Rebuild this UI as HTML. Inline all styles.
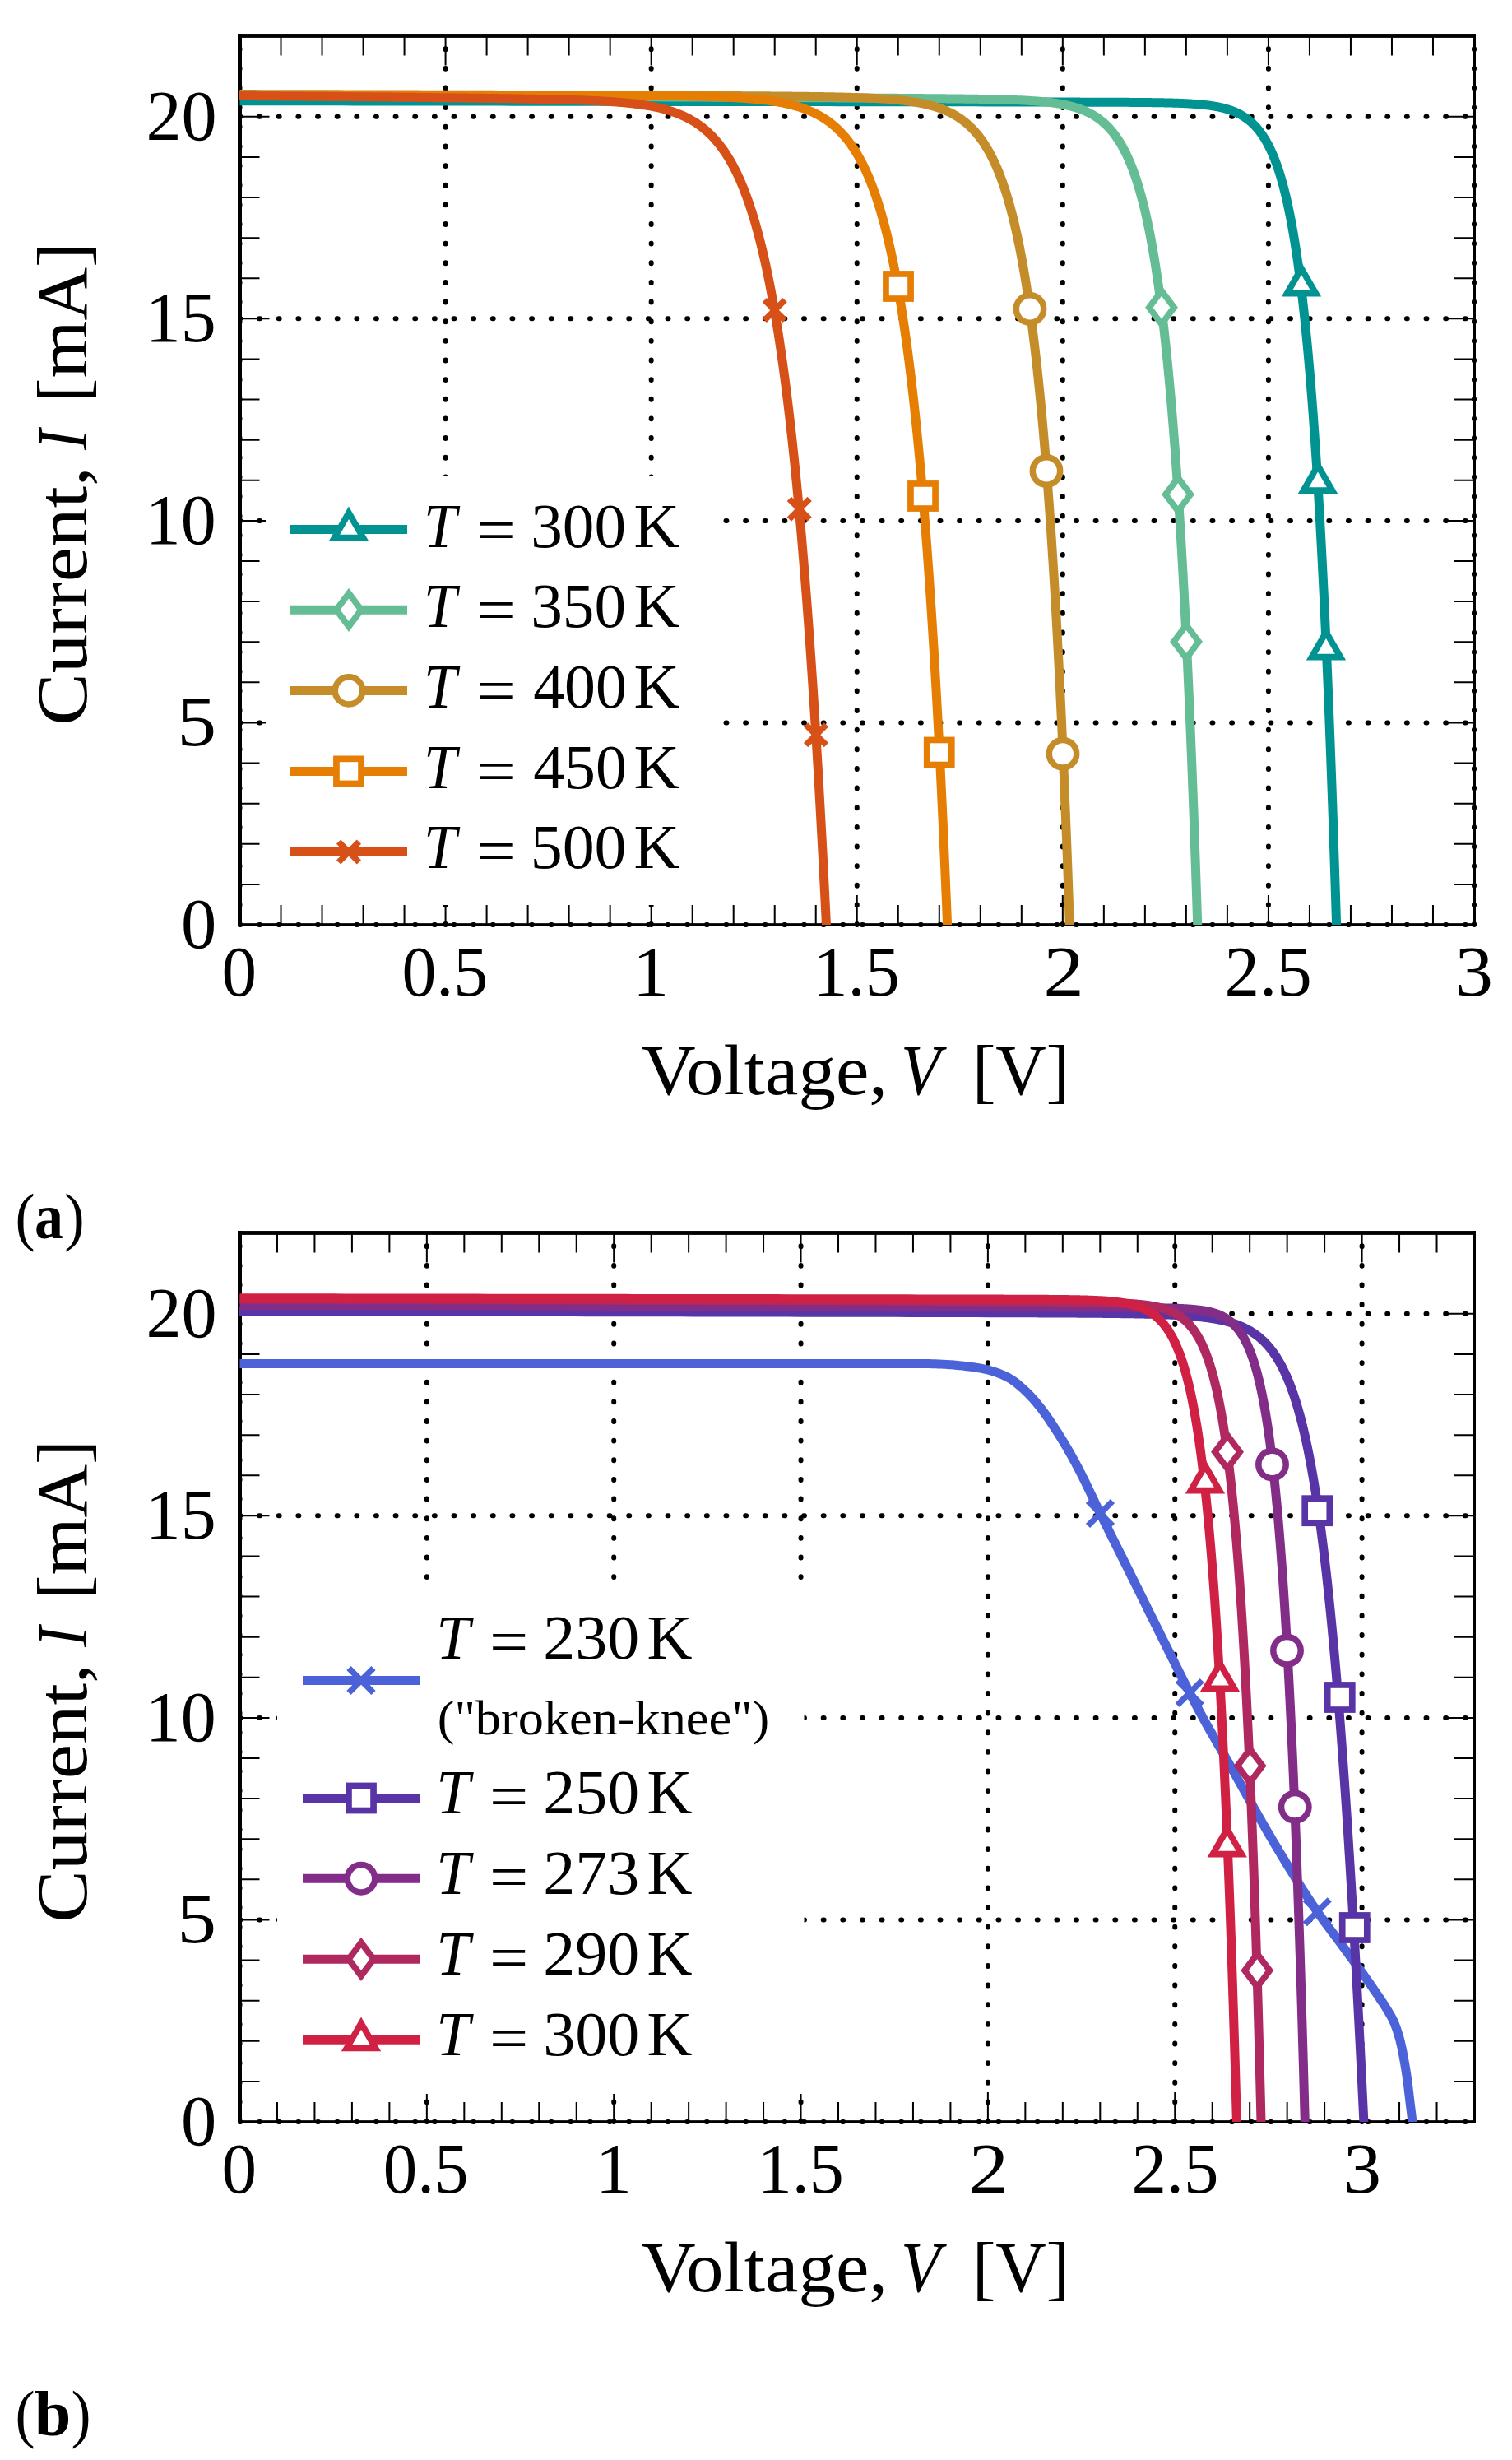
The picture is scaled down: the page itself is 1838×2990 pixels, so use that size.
<!DOCTYPE html>
<html lang="en"><head><meta charset="utf-8"><title>I-V curves</title>
<style>html,body{margin:0;padding:0;background:#fff}svg{display:block}</style></head>
<body>
<svg width="1838" height="2990" viewBox="0 0 1838 2990" font-family="'Liberation Serif', serif" fill="#000">
<rect width="1838" height="2990" fill="#fff"/>
<g id="plotA">
<clipPath id="gclipA"><rect x="289" y="41.05" width="1520" height="1088.5"/></clipPath>
<path d="M291.5 1124V43.5M541.58 1124V43.5M791.67 1124V43.5M1041.75 1124V43.5M1291.83 1124V43.5M1541.92 1124V43.5M1792 1124V43.5M291.5 1124H1792M291.5 878.45H1792M291.5 632.9H1792M291.5 387.35H1792M291.5 141.8H1792" fill="none" stroke="#000" stroke-width="6" stroke-linecap="round" stroke-dasharray="0.9 22.74" clip-path="url(#gclipA)"/>
<path d="M291.5 1124v-36M291.5 43.5v36M341.52 1124v-24M341.52 43.5v24M391.53 1124v-24M391.53 43.5v24M441.55 1124v-24M441.55 43.5v24M491.57 1124v-24M491.57 43.5v24M541.58 1124v-36M541.58 43.5v36M591.6 1124v-24M591.6 43.5v24M641.62 1124v-24M641.62 43.5v24M691.63 1124v-24M691.63 43.5v24M741.65 1124v-24M741.65 43.5v24M791.67 1124v-36M791.67 43.5v36M841.68 1124v-24M841.68 43.5v24M891.7 1124v-24M891.7 43.5v24M941.72 1124v-24M941.72 43.5v24M991.73 1124v-24M991.73 43.5v24M1041.75 1124v-36M1041.75 43.5v36M1091.77 1124v-24M1091.77 43.5v24M1141.78 1124v-24M1141.78 43.5v24M1191.8 1124v-24M1191.8 43.5v24M1241.82 1124v-24M1241.82 43.5v24M1291.83 1124v-36M1291.83 43.5v36M1341.85 1124v-24M1341.85 43.5v24M1391.87 1124v-24M1391.87 43.5v24M1441.88 1124v-24M1441.88 43.5v24M1491.9 1124v-24M1491.9 43.5v24M1541.92 1124v-36M1541.92 43.5v36M1591.93 1124v-24M1591.93 43.5v24M1641.95 1124v-24M1641.95 43.5v24M1691.97 1124v-24M1691.97 43.5v24M1741.98 1124v-24M1741.98 43.5v24M1792 1124v-36M1792 43.5v36M291.5 1124h36M1792 1124h-36M291.5 1074.89h24M1792 1074.89h-24M291.5 1025.78h24M1792 1025.78h-24M291.5 976.67h24M1792 976.67h-24M291.5 927.56h24M1792 927.56h-24M291.5 878.45h36M1792 878.45h-36M291.5 829.34h24M1792 829.34h-24M291.5 780.23h24M1792 780.23h-24M291.5 731.12h24M1792 731.12h-24M291.5 682.01h24M1792 682.01h-24M291.5 632.9h36M1792 632.9h-36M291.5 583.79h24M1792 583.79h-24M291.5 534.68h24M1792 534.68h-24M291.5 485.57h24M1792 485.57h-24M291.5 436.46h24M1792 436.46h-24M291.5 387.35h36M1792 387.35h-36M291.5 338.24h24M1792 338.24h-24M291.5 289.13h24M1792 289.13h-24M291.5 240.02h24M1792 240.02h-24M291.5 190.91h24M1792 190.91h-24M291.5 141.8h36M1792 141.8h-36" fill="none" stroke="#000" stroke-width="2"/>
<rect x="323" y="578" width="549" height="522" fill="#fff"/>
<rect x="289" y="41.05" width="5" height="1084.8" fill="#000"/>
<rect x="1790.2" y="41.05" width="3.8" height="1084.8" fill="#000"/>
<rect x="289" y="41.05" width="1505" height="4.85" fill="#000"/>
<rect x="289" y="1122.15" width="1505" height="3.7" fill="#000"/>
<clipPath id="clipA"><rect x="290.5" y="43.5" width="1501.5" height="1080.5"/></clipPath>
<g clip-path="url(#clipA)" fill="none" stroke-width="11" stroke-linejoin="round">
<path d="M291.5 122.71L303.37 122.73L319.39 122.75L335.4 122.77L351.42 122.79L367.43 122.81L383.45 122.83L399.47 122.85L415.48 122.87L431.5 122.89L447.51 122.91L463.53 122.93L479.54 122.95L495.56 122.97L511.57 122.99L527.59 123.01L543.61 123.03L559.62 123.05L575.64 123.07L591.65 123.09L607.67 123.11L623.68 123.13L639.7 123.15L655.71 123.17L671.73 123.19L687.75 123.21L703.76 123.23L719.78 123.25L735.79 123.27L751.81 123.29L767.82 123.32L783.84 123.34L799.86 123.36L815.87 123.38L831.89 123.4L847.9 123.42L863.92 123.44L879.93 123.46L895.95 123.48L911.96 123.5L927.98 123.52L944 123.54L960.01 123.56L976.03 123.58L992.04 123.6L1008.06 123.62L1024.07 123.64L1040.09 123.66L1056.1 123.68L1072.12 123.71L1088.14 123.73L1104.15 123.75L1120.17 123.77L1136.18 123.8L1152.2 123.82L1168.21 123.84L1184.23 123.87L1200.25 123.89L1216.26 123.92L1232.28 123.95L1248.29 123.98L1249.05 123.98L1249.81 123.98L1250.57 123.98L1251.33 123.98L1252.09 123.99L1252.85 123.99L1253.61 123.99L1254.37 123.99L1255.12 123.99L1255.88 123.99L1256.64 123.99L1257.4 124L1258.16 124L1258.92 124L1259.68 124L1260.44 124L1261.2 124L1261.96 124.01L1262.72 124.01L1263.47 124.01L1264.23 124.01L1264.99 124.01L1265.75 124.01L1266.51 124.01L1267.27 124.02L1268.03 124.02L1268.79 124.02L1269.55 124.02L1270.31 124.02L1271.07 124.02L1271.83 124.03L1272.58 124.03L1273.34 124.03L1274.1 124.03L1274.86 124.03L1275.62 124.03L1276.38 124.04L1277.14 124.04L1277.9 124.04L1278.66 124.04L1279.42 124.04L1280.18 124.04L1280.94 124.05L1281.69 124.05L1282.45 124.05L1283.21 124.05L1283.97 124.05L1284.73 124.05L1285.49 124.06L1286.25 124.06L1287.01 124.06L1287.77 124.06L1288.53 124.06L1289.29 124.06L1290.04 124.07L1290.8 124.07L1291.56 124.07L1292.32 124.07L1293.08 124.07L1293.84 124.08L1294.6 124.08L1295.36 124.08L1296.12 124.08L1296.88 124.08L1297.64 124.08L1298.4 124.09L1299.15 124.09L1299.91 124.09L1300.67 124.09L1301.43 124.09L1302.19 124.1L1302.95 124.1L1303.71 124.1L1304.47 124.1L1305.23 124.1L1305.99 124.11L1306.75 124.11L1307.51 124.11L1308.26 124.11L1309.02 124.11L1309.78 124.12L1310.54 124.12L1311.3 124.12L1312.06 124.12L1312.82 124.12L1313.58 124.13L1314.34 124.13L1315.1 124.13L1315.86 124.13L1316.61 124.13L1317.37 124.14L1318.13 124.14L1318.89 124.14L1319.65 124.14L1320.41 124.15L1321.17 124.15L1321.93 124.15L1322.69 124.15L1323.45 124.15L1324.21 124.16L1324.97 124.16L1325.72 124.16L1326.48 124.16L1327.24 124.17L1328 124.17L1328.76 124.17L1329.52 124.17L1330.28 124.18L1331.04 124.18L1331.8 124.18L1332.56 124.18L1333.32 124.19L1334.08 124.19L1334.83 124.19L1335.59 124.19L1336.35 124.2L1337.11 124.2L1337.87 124.2L1338.63 124.21L1339.39 124.21L1340.15 124.21L1340.91 124.21L1341.67 124.22L1342.43 124.22L1343.19 124.22L1343.94 124.23L1344.7 124.23L1345.46 124.23L1346.22 124.23L1346.98 124.24L1347.74 124.24L1348.5 124.24L1349.26 124.25L1350.02 124.25L1350.78 124.25L1351.54 124.26L1352.29 124.26L1353.05 124.26L1353.81 124.27L1354.57 124.27L1355.33 124.27L1356.09 124.28L1356.85 124.28L1357.61 124.29L1358.37 124.29L1359.13 124.29L1359.89 124.3L1360.65 124.3L1361.4 124.31L1362.16 124.31L1362.92 124.31L1363.68 124.32L1364.44 124.32L1365.2 124.33L1365.96 124.33L1366.72 124.33L1367.48 124.34L1368.24 124.34L1369 124.35L1369.76 124.35L1370.51 124.36L1371.27 124.36L1372.03 124.37L1372.79 124.37L1373.55 124.38L1374.31 124.38L1375.07 124.39L1375.83 124.39L1376.59 124.4L1377.35 124.4L1378.11 124.41L1378.87 124.42L1379.62 124.42L1380.38 124.43L1381.14 124.43L1381.9 124.44L1382.66 124.45L1383.42 124.45L1384.18 124.46L1384.94 124.47L1385.7 124.47L1386.46 124.48L1387.22 124.49L1387.98 124.49L1388.73 124.5L1389.49 124.51L1390.25 124.52L1391.01 124.52L1391.77 124.53L1392.53 124.54L1393.29 124.55L1394.05 124.56L1394.81 124.56L1395.57 124.57L1396.33 124.58L1397.09 124.59L1397.84 124.6L1398.6 124.61L1399.36 124.62L1400.12 124.63L1400.88 124.64L1401.64 124.65L1402.4 124.66L1403.16 124.67L1403.92 124.68L1404.68 124.69L1405.44 124.71L1406.2 124.72L1406.95 124.73L1407.71 124.74L1408.47 124.75L1409.23 124.77L1409.99 124.78L1410.75 124.79L1411.51 124.81L1412.27 124.82L1413.03 124.84L1413.79 124.85L1414.55 124.87L1415.31 124.88L1416.06 124.9L1416.82 124.91L1417.58 124.93L1418.34 124.95L1419.1 124.97L1419.86 124.98L1420.62 125L1421.38 125.02L1422.14 125.04L1422.9 125.06L1423.66 125.08L1424.42 125.1L1425.18 125.12L1425.93 125.14L1426.69 125.17L1427.45 125.19L1428.21 125.21L1428.97 125.24L1429.73 125.26L1430.49 125.29L1431.25 125.31L1432.01 125.34L1432.77 125.37L1433.53 125.4L1434.29 125.43L1435.05 125.46L1435.8 125.49L1436.56 125.52L1437.32 125.55L1438.08 125.58L1438.84 125.62L1439.6 125.65L1440.36 125.69L1441.12 125.72L1441.88 125.76L1442.64 125.8L1443.4 125.84L1444.16 125.88L1444.92 125.92L1445.68 125.96L1446.43 126.01L1447.19 126.05L1447.95 126.1L1448.71 126.14L1449.47 126.19L1450.23 126.24L1450.99 126.29L1451.75 126.35L1452.51 126.4L1453.27 126.46L1454.03 126.51L1454.79 126.57L1455.55 126.63L1456.31 126.7L1457.07 126.76L1457.83 126.83L1458.58 126.89L1459.34 126.96L1460.1 127.03L1460.86 127.11L1461.62 127.18L1462.38 127.26L1463.14 127.34L1463.9 127.42L1464.66 127.5L1465.42 127.59L1466.18 127.68L1466.94 127.77L1467.7 127.86L1468.46 127.96L1469.22 128.06L1469.98 128.16L1470.74 128.26L1471.5 128.37L1472.26 128.48L1473.02 128.59L1473.77 128.71L1474.53 128.83L1475.29 128.95L1476.05 129.08L1476.81 129.21L1477.57 129.34L1478.33 129.48L1479.09 129.62L1479.85 129.77L1480.61 129.92L1481.37 130.07L1482.13 130.23L1482.89 130.39L1483.65 130.56L1484.41 130.73L1485.17 130.91L1485.93 131.09L1486.69 131.28L1487.45 131.47L1488.21 131.67L1488.97 131.87L1489.73 132.08L1490.49 132.3L1491.25 132.52L1492.01 132.75L1492.77 132.98L1493.53 133.22L1494.29 133.47L1495.05 133.72L1495.81 133.99L1496.57 134.26L1497.33 134.53L1498.09 134.82L1498.85 135.11L1499.61 135.41L1500.37 135.72L1501.13 136.04L1501.89 136.37L1502.66 136.71L1503.42 137.06L1504.18 137.41L1504.94 137.78L1505.7 138.16L1506.46 138.55L1507.22 138.95L1507.98 139.36L1508.74 139.78L1509.5 140.22L1510.26 140.67L1511.02 141.13L1511.79 141.6L1512.55 142.09L1513.31 142.59L1514.07 143.11L1514.83 143.64L1515.59 144.19L1516.35 144.75L1517.11 145.33L1517.88 145.92L1518.64 146.53L1519.4 147.16L1520.16 147.81L1520.92 148.48L1521.69 149.16L1522.45 149.87L1523.21 150.6L1523.97 151.34L1524.73 152.11L1525.5 152.9L1526.26 153.71L1527.02 154.55L1527.78 155.41L1528.55 156.3L1529.31 157.21L1530.07 158.15L1530.84 159.11L1531.6 160.1L1532.36 161.12L1533.13 162.18L1533.89 163.26L1534.65 164.37L1535.42 165.51L1536.18 166.69L1536.95 167.9L1537.71 169.15L1538.47 170.43L1539.24 171.75L1540 173.11L1540.77 174.5L1541.53 175.94L1542.3 177.42L1543.06 178.94L1543.83 180.5L1544.6 182.12L1545.36 183.77L1546.13 185.48L1546.89 187.23L1547.66 189.04L1548.43 190.89L1549.19 192.8L1549.96 194.77L1550.73 196.79L1551.5 198.87L1552.27 201.02L1553.03 203.22L1553.8 205.49L1554.57 207.82L1555.34 210.22L1556.11 212.69L1556.88 215.23L1557.65 217.85L1558.42 220.54L1559.19 223.3L1559.96 226.15L1560.73 229.08L1561.5 232.1L1562.28 235.2L1563.05 238.39L1563.82 241.68L1564.59 245.06L1565.37 248.54L1566.14 252.11L1566.92 255.8L1567.69 259.58L1568.47 263.48L1569.24 267.49L1570.02 271.62L1570.79 275.87L1571.57 280.24L1572.35 284.73L1573.13 289.36L1573.91 294.12L1574.69 299.01L1575.47 304.05L1576.25 309.24L1577.03 314.57L1577.81 320.06L1578.59 325.71L1579.37 331.52L1580.16 337.5L1580.94 343.66L1581.73 349.99L1582.51 356.5L1583.3 363.2L1584.09 370.1L1584.88 377.2L1585.67 384.5L1586.46 392.01L1587.25 399.74L1588.04 407.7L1588.83 415.88L1589.63 424.3L1590.42 432.97L1591.22 441.88L1592.02 451.06L1592.81 460.49L1593.61 470.21L1594.41 480.2L1595.22 490.48L1596.02 501.06L1596.82 511.95L1597.63 523.15L1598.43 534.67L1599.24 546.53L1600.05 558.73L1600.86 571.29L1601.68 584.21L1602.49 597.5L1603.31 611.17L1604.12 625.25L1604.94 639.72L1605.76 654.62L1606.59 669.95L1607.41 685.72L1608.24 701.95L1609.07 718.65L1609.9 735.83L1610.73 753.51L1611.56 771.69L1612.4 790.41L1613.24 809.67L1614.08 829.48L1614.92 849.87L1615.77 870.84L1616.62 892.42L1617.47 914.63L1618.32 937.48L1619.18 960.99L1620.04 985.18L1620.9 1010.06L1621.76 1035.67L1622.63 1062.02L1623.5 1089.13L1624.38 1117.03L1625.26 1145.73L1626.14 1175.26L1627.02 1205.64L1627.91 1236.9L1628.8 1269.07L1629.7 1302.17L1630.6 1336.22L1631.5 1371.26L1632.41 1407.31" stroke="#009392"/>
<polygon points="1582,326.3 1599.49,356.6 1564.51,356.6" fill="#fff" stroke="#009392" stroke-width="7.7" stroke-linejoin="miter"/>
<polygon points="1602,565.8 1619.49,596.1 1584.51,596.1" fill="#fff" stroke="#009392" stroke-width="7.7" stroke-linejoin="miter"/>
<polygon points="1612,768.3 1629.49,798.6 1594.51,798.6" fill="#fff" stroke="#009392" stroke-width="7.7" stroke-linejoin="miter"/>
<path d="M291.5 116.11L303.03 116.15L315.09 116.19L327.16 116.22L339.22 116.26L351.28 116.3L363.34 116.34L375.4 116.38L387.46 116.42L399.52 116.46L411.59 116.49L423.65 116.53L435.71 116.57L447.77 116.61L459.83 116.65L471.89 116.69L483.95 116.73L496.02 116.77L508.08 116.81L520.14 116.85L532.2 116.89L544.26 116.93L556.32 116.97L568.38 117.01L580.44 117.05L592.51 117.09L604.57 117.13L616.63 117.17L628.69 117.22L640.75 117.26L652.81 117.3L664.87 117.34L676.94 117.39L689 117.43L701.06 117.47L713.12 117.52L725.18 117.56L737.24 117.61L749.3 117.65L761.37 117.7L773.43 117.75L785.49 117.79L797.55 117.84L809.61 117.89L821.67 117.94L833.73 117.99L845.8 118.04L857.86 118.09L869.92 118.15L881.98 118.2L894.04 118.25L906.1 118.31L918.16 118.37L930.22 118.43L942.29 118.48L954.35 118.55L966.41 118.61L978.47 118.67L990.53 118.74L1002.59 118.8L1014.65 118.87L1015.55 118.88L1016.45 118.88L1017.35 118.89L1018.25 118.9L1019.15 118.9L1020.05 118.91L1020.94 118.91L1021.84 118.92L1022.74 118.92L1023.64 118.93L1024.54 118.93L1025.44 118.94L1026.34 118.94L1027.24 118.95L1028.13 118.95L1029.03 118.96L1029.93 118.96L1030.83 118.97L1031.73 118.98L1032.63 118.98L1033.53 118.99L1034.42 118.99L1035.32 119L1036.22 119L1037.12 119.01L1038.02 119.01L1038.92 119.02L1039.82 119.03L1040.71 119.03L1041.61 119.04L1042.51 119.04L1043.41 119.05L1044.31 119.05L1045.21 119.06L1046.11 119.06L1047 119.07L1047.9 119.08L1048.8 119.08L1049.7 119.09L1050.6 119.09L1051.5 119.1L1052.4 119.11L1053.29 119.11L1054.19 119.12L1055.09 119.12L1055.99 119.13L1056.89 119.13L1057.79 119.14L1058.69 119.15L1059.59 119.15L1060.48 119.16L1061.38 119.16L1062.28 119.17L1063.18 119.18L1064.08 119.18L1064.98 119.19L1065.88 119.19L1066.77 119.2L1067.67 119.21L1068.57 119.21L1069.47 119.22L1070.37 119.22L1071.27 119.23L1072.17 119.24L1073.06 119.24L1073.96 119.25L1074.86 119.26L1075.76 119.26L1076.66 119.27L1077.56 119.27L1078.46 119.28L1079.35 119.29L1080.25 119.29L1081.15 119.3L1082.05 119.31L1082.95 119.31L1083.85 119.32L1084.75 119.32L1085.65 119.33L1086.54 119.34L1087.44 119.34L1088.34 119.35L1089.24 119.36L1090.14 119.36L1091.04 119.37L1091.94 119.38L1092.83 119.38L1093.73 119.39L1094.63 119.4L1095.53 119.4L1096.43 119.41L1097.33 119.42L1098.23 119.42L1099.12 119.43L1100.02 119.44L1100.92 119.44L1101.82 119.45L1102.72 119.46L1103.62 119.47L1104.52 119.47L1105.41 119.48L1106.31 119.49L1107.21 119.49L1108.11 119.5L1109.01 119.51L1109.91 119.51L1110.81 119.52L1111.7 119.53L1112.6 119.54L1113.5 119.54L1114.4 119.55L1115.3 119.56L1116.2 119.57L1117.1 119.57L1118 119.58L1118.89 119.59L1119.79 119.6L1120.69 119.6L1121.59 119.61L1122.49 119.62L1123.39 119.63L1124.29 119.63L1125.18 119.64L1126.08 119.65L1126.98 119.66L1127.88 119.67L1128.78 119.67L1129.68 119.68L1130.58 119.69L1131.47 119.7L1132.37 119.71L1133.27 119.71L1134.17 119.72L1135.07 119.73L1135.97 119.74L1136.87 119.75L1137.76 119.76L1138.66 119.76L1139.56 119.77L1140.46 119.78L1141.36 119.79L1142.26 119.8L1143.16 119.81L1144.05 119.82L1144.95 119.82L1145.85 119.83L1146.75 119.84L1147.65 119.85L1148.55 119.86L1149.45 119.87L1150.35 119.88L1151.24 119.89L1152.14 119.9L1153.04 119.91L1153.94 119.92L1154.84 119.93L1155.74 119.94L1156.64 119.95L1157.53 119.96L1158.43 119.97L1159.33 119.98L1160.23 119.99L1161.13 120L1162.03 120.01L1162.93 120.02L1163.82 120.03L1164.72 120.04L1165.62 120.05L1166.52 120.06L1167.42 120.07L1168.32 120.08L1169.22 120.09L1170.11 120.11L1171.01 120.12L1171.91 120.13L1172.81 120.14L1173.71 120.15L1174.61 120.16L1175.51 120.18L1176.41 120.19L1177.3 120.2L1178.2 120.21L1179.1 120.22L1180 120.24L1180.9 120.25L1181.8 120.26L1182.7 120.28L1183.59 120.29L1184.49 120.3L1185.39 120.32L1186.29 120.33L1187.19 120.35L1188.09 120.36L1188.99 120.37L1189.88 120.39L1190.78 120.4L1191.68 120.42L1192.58 120.43L1193.48 120.45L1194.38 120.47L1195.28 120.48L1196.17 120.5L1197.07 120.51L1197.97 120.53L1198.87 120.55L1199.77 120.57L1200.67 120.58L1201.57 120.6L1202.47 120.62L1203.36 120.64L1204.26 120.66L1205.16 120.67L1206.06 120.69L1206.96 120.71L1207.86 120.73L1208.76 120.75L1209.65 120.77L1210.55 120.8L1211.45 120.82L1212.35 120.84L1213.25 120.86L1214.15 120.88L1215.05 120.91L1215.94 120.93L1216.84 120.95L1217.74 120.98L1218.64 121L1219.54 121.03L1220.44 121.05L1221.34 121.08L1222.23 121.11L1223.13 121.13L1224.03 121.16L1224.93 121.19L1225.83 121.22L1226.73 121.25L1227.63 121.28L1228.53 121.31L1229.42 121.34L1230.32 121.37L1231.22 121.41L1232.12 121.44L1233.02 121.47L1233.92 121.51L1234.82 121.54L1235.71 121.58L1236.61 121.62L1237.51 121.65L1238.41 121.69L1239.31 121.73L1240.21 121.77L1241.11 121.81L1242 121.86L1242.9 121.9L1243.8 121.94L1244.7 121.99L1245.6 122.04L1246.5 122.08L1247.4 122.13L1248.3 122.18L1249.19 122.23L1250.09 122.29L1250.99 122.34L1251.89 122.39L1252.79 122.45L1253.69 122.51L1254.59 122.56L1255.48 122.62L1256.38 122.69L1257.28 122.75L1258.18 122.81L1259.08 122.88L1259.98 122.95L1260.88 123.02L1261.77 123.09L1262.67 123.16L1263.57 123.24L1264.47 123.31L1265.37 123.39L1266.27 123.47L1267.17 123.56L1268.07 123.64L1268.96 123.73L1269.86 123.82L1270.76 123.91L1271.66 124L1272.56 124.1L1273.46 124.2L1274.36 124.3L1275.25 124.4L1276.15 124.51L1277.05 124.62L1277.95 124.73L1278.85 124.85L1279.75 124.96L1280.65 125.09L1281.55 125.21L1282.44 125.34L1283.34 125.47L1284.24 125.6L1285.14 125.74L1286.04 125.89L1286.94 126.03L1287.84 126.18L1288.73 126.34L1289.63 126.49L1290.53 126.66L1291.43 126.82L1292.33 126.99L1293.23 127.17L1294.13 127.35L1295.03 127.54L1295.92 127.73L1296.82 127.92L1297.72 128.12L1298.62 128.33L1299.52 128.54L1300.42 128.76L1301.32 128.99L1302.22 129.22L1303.11 129.45L1304.01 129.7L1304.91 129.95L1305.81 130.2L1306.71 130.47L1307.61 130.74L1308.51 131.02L1309.41 131.3L1310.3 131.6L1311.2 131.9L1312.1 132.21L1313 132.53L1313.9 132.86L1314.8 133.2L1315.7 133.55L1316.6 133.91L1317.49 134.27L1318.39 134.65L1319.29 135.04L1320.19 135.44L1321.09 135.85L1321.99 136.27L1322.89 136.7L1323.79 137.15L1324.68 137.61L1325.58 138.08L1326.48 138.56L1327.38 139.06L1328.28 139.57L1329.18 140.1L1330.08 140.64L1330.98 141.2L1331.88 141.77L1332.77 142.36L1333.67 142.97L1334.57 143.59L1335.47 144.23L1336.37 144.89L1337.27 145.57L1338.17 146.27L1339.07 146.98L1339.97 147.72L1340.87 148.48L1341.76 149.26L1342.66 150.06L1343.56 150.88L1344.46 151.73L1345.36 152.61L1346.26 153.5L1347.16 154.43L1348.06 155.38L1348.96 156.35L1349.86 157.36L1350.76 158.39L1351.65 159.45L1352.55 160.54L1353.45 161.67L1354.35 162.83L1355.25 164.01L1356.15 165.24L1357.05 166.5L1357.95 167.79L1358.85 169.12L1359.75 170.49L1360.65 171.9L1361.55 173.35L1362.45 174.84L1363.35 176.38L1364.24 177.96L1365.14 179.58L1366.04 181.25L1366.94 182.97L1367.84 184.74L1368.74 186.55L1369.64 188.42L1370.54 190.35L1371.44 192.33L1372.34 194.36L1373.24 196.46L1374.14 198.61L1375.04 200.83L1375.94 203.11L1376.84 205.46L1377.74 207.87L1378.64 210.36L1379.54 212.91L1380.44 215.54L1381.34 218.25L1382.24 221.03L1383.14 223.89L1384.04 226.84L1384.94 229.87L1385.84 232.98L1386.74 236.19L1387.64 239.49L1388.54 242.89L1389.44 246.38L1390.34 249.97L1391.24 253.67L1392.14 257.47L1393.04 261.39L1393.94 265.41L1394.85 269.56L1395.75 273.82L1396.65 278.2L1397.55 282.71L1398.45 287.36L1399.35 292.13L1400.25 297.05L1401.15 302.1L1402.05 307.3L1402.96 312.66L1403.86 318.16L1404.76 323.83L1405.66 329.66L1406.56 335.65L1407.46 341.83L1408.37 348.17L1409.27 354.71L1410.17 361.43L1411.07 368.34L1411.97 375.46L1412.88 382.78L1413.78 390.31L1414.68 398.06L1415.59 406.04L1416.49 414.24L1417.39 422.68L1418.29 431.37L1419.2 440.31L1420.1 449.5L1421 458.96L1421.91 468.7L1422.81 478.71L1423.72 489.02L1424.62 499.62L1425.52 510.53L1426.43 521.76L1427.33 533.31L1428.24 545.19L1429.14 557.42L1430.05 570L1430.95 582.95L1431.86 596.27L1432.77 609.98L1433.67 624.08L1434.58 638.59L1435.48 653.52L1436.39 668.88L1437.3 684.69L1438.21 700.95L1439.11 717.69L1440.02 734.91L1440.93 752.62L1441.84 770.85L1442.74 789.61L1443.65 808.91L1444.56 828.77L1445.47 849.2L1446.38 870.22L1447.29 891.86L1448.2 914.11L1449.11 937.02L1450.02 960.58L1450.93 984.83L1451.85 1009.78L1452.76 1035.45L1453.67 1061.86L1454.58 1089.04L1455.5 1117.01L1456.41 1145.78L1457.32 1175.39L1458.24 1205.86L1459.15 1237.2L1460.07 1269.46L1460.99 1302.64L1461.9 1336.79L1462.82 1371.93L1463.74 1408.08" stroke="#65bd96"/>
<polygon points="1412,353.55 1427.15,373.75 1412,393.95 1396.85,373.75" fill="#fff" stroke="#65bd96" stroke-width="7.7" stroke-linejoin="miter"/>
<polygon points="1432,580.8 1447.15,601 1432,621.2 1416.85,601" fill="#fff" stroke="#65bd96" stroke-width="7.7" stroke-linejoin="miter"/>
<polygon points="1442,759.8 1457.15,780 1442,800.2 1426.85,780" fill="#fff" stroke="#65bd96" stroke-width="7.7" stroke-linejoin="miter"/>
<path d="M291.5 114.57L300.9 114.59L309.4 114.61L317.9 114.63L326.4 114.66L334.89 114.68L343.39 114.7L351.89 114.72L360.39 114.74L368.89 114.76L377.39 114.78L385.89 114.8L394.38 114.82L402.88 114.84L411.38 114.87L419.88 114.89L428.38 114.91L436.88 114.93L445.38 114.95L453.87 114.97L462.37 114.99L470.87 115.02L479.37 115.04L487.87 115.06L496.37 115.08L504.87 115.11L513.36 115.13L521.86 115.15L530.36 115.17L538.86 115.2L547.36 115.22L555.86 115.25L564.36 115.27L572.85 115.29L581.35 115.32L589.85 115.34L598.35 115.37L606.85 115.39L615.35 115.42L623.85 115.44L632.34 115.47L640.84 115.49L649.34 115.52L657.84 115.55L666.34 115.58L674.84 115.6L683.34 115.63L691.83 115.66L700.33 115.69L708.83 115.72L717.33 115.75L725.83 115.78L734.33 115.81L742.83 115.84L751.32 115.88L759.82 115.91L768.32 115.94L776.82 115.98L785.32 116.01L793.82 116.05L802.32 116.09L803.33 116.09L804.35 116.1L805.37 116.1L806.39 116.11L807.4 116.11L808.42 116.11L809.44 116.12L810.46 116.12L811.47 116.13L812.49 116.13L813.51 116.14L814.53 116.14L815.55 116.15L816.56 116.15L817.58 116.16L818.6 116.16L819.62 116.17L820.63 116.17L821.65 116.18L822.67 116.18L823.69 116.19L824.7 116.19L825.72 116.2L826.74 116.2L827.76 116.21L828.78 116.21L829.79 116.22L830.81 116.22L831.83 116.23L832.85 116.23L833.86 116.24L834.88 116.24L835.9 116.25L836.92 116.25L837.93 116.26L838.95 116.26L839.97 116.27L840.99 116.27L842 116.28L843.02 116.28L844.04 116.29L845.06 116.29L846.08 116.3L847.09 116.3L848.11 116.31L849.13 116.31L850.15 116.32L851.16 116.32L852.18 116.33L853.2 116.33L854.22 116.34L855.23 116.35L856.25 116.35L857.27 116.36L858.29 116.36L859.31 116.37L860.32 116.37L861.34 116.38L862.36 116.38L863.38 116.39L864.39 116.4L865.41 116.4L866.43 116.41L867.45 116.41L868.46 116.42L869.48 116.42L870.5 116.43L871.52 116.44L872.54 116.44L873.55 116.45L874.57 116.45L875.59 116.46L876.61 116.47L877.62 116.47L878.64 116.48L879.66 116.48L880.68 116.49L881.69 116.5L882.71 116.5L883.73 116.51L884.75 116.51L885.76 116.52L886.78 116.53L887.8 116.53L888.82 116.54L889.84 116.55L890.85 116.55L891.87 116.56L892.89 116.57L893.91 116.57L894.92 116.58L895.94 116.58L896.96 116.59L897.98 116.6L898.99 116.6L900.01 116.61L901.03 116.62L902.05 116.63L903.07 116.63L904.08 116.64L905.1 116.65L906.12 116.65L907.14 116.66L908.15 116.67L909.17 116.67L910.19 116.68L911.21 116.69L912.22 116.7L913.24 116.7L914.26 116.71L915.28 116.72L916.29 116.72L917.31 116.73L918.33 116.74L919.35 116.75L920.37 116.75L921.38 116.76L922.4 116.77L923.42 116.78L924.44 116.79L925.45 116.79L926.47 116.8L927.49 116.81L928.51 116.82L929.52 116.82L930.54 116.83L931.56 116.84L932.58 116.85L933.6 116.86L934.61 116.87L935.63 116.87L936.65 116.88L937.67 116.89L938.68 116.9L939.7 116.91L940.72 116.92L941.74 116.93L942.75 116.94L943.77 116.94L944.79 116.95L945.81 116.96L946.82 116.97L947.84 116.98L948.86 116.99L949.88 117L950.9 117.01L951.91 117.02L952.93 117.03L953.95 117.04L954.97 117.05L955.98 117.06L957 117.07L958.02 117.08L959.04 117.09L960.05 117.1L961.07 117.11L962.09 117.12L963.11 117.13L964.13 117.14L965.14 117.15L966.16 117.16L967.18 117.17L968.2 117.19L969.21 117.2L970.23 117.21L971.25 117.22L972.27 117.23L973.28 117.24L974.3 117.26L975.32 117.27L976.34 117.28L977.35 117.29L978.37 117.3L979.39 117.32L980.41 117.33L981.43 117.34L982.44 117.36L983.46 117.37L984.48 117.38L985.5 117.4L986.51 117.41L987.53 117.42L988.55 117.44L989.57 117.45L990.58 117.47L991.6 117.48L992.62 117.5L993.64 117.51L994.66 117.53L995.67 117.54L996.69 117.56L997.71 117.58L998.73 117.59L999.74 117.61L1000.76 117.62L1001.78 117.64L1002.8 117.66L1003.81 117.68L1004.83 117.69L1005.85 117.71L1006.87 117.73L1007.88 117.75L1008.9 117.77L1009.92 117.79L1010.94 117.81L1011.96 117.83L1012.97 117.85L1013.99 117.87L1015.01 117.89L1016.03 117.91L1017.04 117.93L1018.06 117.95L1019.08 117.97L1020.1 118L1021.11 118.02L1022.13 118.04L1023.15 118.07L1024.17 118.09L1025.18 118.11L1026.2 118.14L1027.22 118.16L1028.24 118.19L1029.26 118.22L1030.27 118.24L1031.29 118.27L1032.31 118.3L1033.33 118.33L1034.34 118.36L1035.36 118.38L1036.38 118.41L1037.4 118.45L1038.41 118.48L1039.43 118.51L1040.45 118.54L1041.47 118.57L1042.48 118.61L1043.5 118.64L1044.52 118.68L1045.54 118.71L1046.56 118.75L1047.57 118.79L1048.59 118.82L1049.61 118.86L1050.63 118.9L1051.64 118.94L1052.66 118.99L1053.68 119.03L1054.7 119.07L1055.71 119.11L1056.73 119.16L1057.75 119.21L1058.77 119.25L1059.78 119.3L1060.8 119.35L1061.82 119.4L1062.84 119.45L1063.86 119.5L1064.87 119.56L1065.89 119.61L1066.91 119.67L1067.93 119.72L1068.94 119.78L1069.96 119.84L1070.98 119.9L1072 119.97L1073.01 120.03L1074.03 120.1L1075.05 120.16L1076.07 120.23L1077.08 120.3L1078.1 120.37L1079.12 120.45L1080.14 120.52L1081.15 120.6L1082.17 120.68L1083.19 120.76L1084.21 120.84L1085.23 120.93L1086.24 121.02L1087.26 121.1L1088.28 121.2L1089.3 121.29L1090.31 121.39L1091.33 121.48L1092.35 121.58L1093.37 121.69L1094.38 121.79L1095.4 121.9L1096.42 122.01L1097.44 122.13L1098.45 122.24L1099.47 122.36L1100.49 122.48L1101.51 122.61L1102.52 122.74L1103.54 122.87L1104.56 123.01L1105.58 123.15L1106.59 123.29L1107.61 123.43L1108.63 123.58L1109.65 123.74L1110.66 123.9L1111.68 124.06L1112.7 124.22L1113.72 124.39L1114.73 124.57L1115.75 124.75L1116.77 124.93L1117.79 125.12L1118.8 125.31L1119.82 125.51L1120.84 125.72L1121.86 125.93L1122.87 126.14L1123.89 126.36L1124.91 126.59L1125.93 126.82L1126.94 127.06L1127.96 127.3L1128.98 127.56L1130 127.81L1131.01 128.08L1132.03 128.35L1133.05 128.63L1134.07 128.92L1135.08 129.21L1136.1 129.52L1137.12 129.83L1138.14 130.15L1139.15 130.47L1140.17 130.81L1141.19 131.16L1142.21 131.51L1143.22 131.87L1144.24 132.25L1145.26 132.63L1146.27 133.03L1147.29 133.44L1148.31 133.85L1149.33 134.28L1150.34 134.72L1151.36 135.17L1152.38 135.64L1153.4 136.12L1154.41 136.61L1155.43 137.11L1156.45 137.63L1157.46 138.16L1158.48 138.71L1159.5 139.27L1160.52 139.84L1161.53 140.44L1162.55 141.05L1163.57 141.67L1164.58 142.32L1165.6 142.98L1166.62 143.66L1167.64 144.36L1168.65 145.08L1169.67 145.81L1170.69 146.57L1171.7 147.35L1172.72 148.15L1173.74 148.98L1174.75 149.82L1175.77 150.69L1176.79 151.59L1177.81 152.51L1178.82 153.45L1179.84 154.43L1180.86 155.42L1181.87 156.45L1182.89 157.51L1183.91 158.59L1184.92 159.71L1185.94 160.86L1186.96 162.03L1187.97 163.25L1188.99 164.49L1190.01 165.78L1191.02 167.09L1192.04 168.45L1193.05 169.84L1194.07 171.27L1195.09 172.75L1196.1 174.26L1197.12 175.82L1198.14 177.42L1199.15 179.06L1200.17 180.76L1201.19 182.5L1202.2 184.29L1203.22 186.13L1204.23 188.02L1205.25 189.97L1206.26 191.97L1207.28 194.03L1208.3 196.14L1209.31 198.32L1210.33 200.56L1211.34 202.86L1212.36 205.23L1213.37 207.66L1214.39 210.17L1215.41 212.74L1216.42 215.39L1217.44 218.11L1218.45 220.92L1219.47 223.8L1220.48 226.76L1221.5 229.81L1222.51 232.94L1223.53 236.17L1224.54 239.49L1225.56 242.9L1226.57 246.41L1227.58 250.01L1228.6 253.73L1229.61 257.55L1230.63 261.47L1231.64 265.51L1232.66 269.67L1233.67 273.94L1234.68 278.34L1235.7 282.86L1236.71 287.51L1237.72 292.3L1238.74 297.22L1239.75 302.29L1240.76 307.5L1241.78 312.86L1242.79 318.37L1243.8 324.04L1244.81 329.87L1245.83 335.88L1246.84 342.05L1247.85 348.4L1248.86 354.94L1249.87 361.66L1250.88 368.57L1251.9 375.69L1252.91 383.01L1253.92 390.54L1254.93 398.29L1255.94 406.26L1256.95 414.46L1257.96 422.89L1258.97 431.57L1259.98 440.5L1260.99 449.69L1262 459.14L1263.01 468.87L1264.02 478.88L1265.02 489.17L1266.03 499.77L1267.04 510.66L1268.05 521.88L1269.06 533.42L1270.06 545.29L1271.07 557.5L1272.08 570.07L1273.08 583L1274.09 596.31L1275.09 610L1276.1 624.09L1277.1 638.58L1278.11 653.5L1279.11 668.84L1280.12 684.64L1281.12 700.89L1282.12 717.61L1283.12 734.81L1284.13 752.52L1285.13 770.74L1286.13 789.48L1287.13 808.77L1288.13 828.63L1289.13 849.05L1290.13 870.07L1291.12 891.71L1292.12 913.97L1293.12 936.87L1294.12 960.45L1295.11 984.7L1296.11 1009.67L1297.1 1035.36L1298.1 1061.79L1299.09 1089L1300.08 1117L1301.07 1145.81L1302.07 1175.47L1303.06 1205.98L1304.05 1237.39L1305.03 1269.71L1306.02 1302.97L1307.01 1337.2L1308 1372.43L1308.98 1408.68" stroke="#c48d2a"/>
<circle cx="1252" cy="375.5" r="16.7" fill="#fff" stroke="#c48d2a" stroke-width="7.5"/>
<circle cx="1272" cy="572.5" r="16.7" fill="#fff" stroke="#c48d2a" stroke-width="7.5"/>
<circle cx="1292" cy="916.25" r="16.7" fill="#fff" stroke="#c48d2a" stroke-width="7.5"/>
<path d="M291.5 115.49L296.5 115.5L301.34 115.5L306.19 115.5L311.03 115.5L315.88 115.5L320.72 115.5L325.57 115.5L330.41 115.5L335.26 115.5L340.1 115.51L344.95 115.51L349.79 115.51L354.64 115.51L359.49 115.51L364.33 115.51L369.18 115.51L374.02 115.52L378.87 115.52L383.71 115.52L388.56 115.52L393.4 115.52L398.25 115.52L403.09 115.53L407.94 115.53L412.78 115.53L417.63 115.53L422.47 115.53L427.32 115.54L432.16 115.54L437.01 115.54L441.85 115.54L446.7 115.55L451.54 115.55L456.39 115.55L461.24 115.55L466.08 115.56L470.93 115.56L475.77 115.56L480.62 115.57L485.46 115.57L490.31 115.57L495.15 115.58L500 115.58L504.84 115.58L509.69 115.59L514.53 115.59L519.38 115.59L524.22 115.6L529.07 115.6L533.91 115.61L538.76 115.61L543.6 115.61L548.45 115.62L553.3 115.62L558.14 115.63L562.99 115.63L567.83 115.64L572.68 115.64L577.52 115.65L582.37 115.66L583.53 115.66L584.69 115.66L585.85 115.66L587.01 115.66L588.17 115.66L589.34 115.66L590.5 115.67L591.66 115.67L592.82 115.67L593.98 115.67L595.14 115.67L596.3 115.67L597.47 115.68L598.63 115.68L599.79 115.68L600.95 115.68L602.11 115.68L603.27 115.68L604.43 115.68L605.6 115.69L606.76 115.69L607.92 115.69L609.08 115.69L610.24 115.69L611.4 115.69L612.56 115.7L613.73 115.7L614.89 115.7L616.05 115.7L617.21 115.7L618.37 115.71L619.53 115.71L620.69 115.71L621.86 115.71L623.02 115.71L624.18 115.71L625.34 115.72L626.5 115.72L627.66 115.72L628.82 115.72L629.99 115.72L631.15 115.73L632.31 115.73L633.47 115.73L634.63 115.73L635.79 115.73L636.95 115.74L638.12 115.74L639.28 115.74L640.44 115.74L641.6 115.74L642.76 115.75L643.92 115.75L645.08 115.75L646.25 115.75L647.41 115.76L648.57 115.76L649.73 115.76L650.89 115.76L652.05 115.77L653.21 115.77L654.38 115.77L655.54 115.77L656.7 115.77L657.86 115.78L659.02 115.78L660.18 115.78L661.34 115.78L662.51 115.79L663.67 115.79L664.83 115.79L665.99 115.79L667.15 115.8L668.31 115.8L669.47 115.8L670.64 115.8L671.8 115.81L672.96 115.81L674.12 115.81L675.28 115.82L676.44 115.82L677.6 115.82L678.77 115.82L679.93 115.83L681.09 115.83L682.25 115.83L683.41 115.84L684.57 115.84L685.73 115.84L686.9 115.85L688.06 115.85L689.22 115.85L690.38 115.85L691.54 115.86L692.7 115.86L693.86 115.86L695.03 115.87L696.19 115.87L697.35 115.87L698.51 115.88L699.67 115.88L700.83 115.88L701.99 115.89L703.16 115.89L704.32 115.89L705.48 115.9L706.64 115.9L707.8 115.91L708.96 115.91L710.12 115.91L711.29 115.92L712.45 115.92L713.61 115.92L714.77 115.93L715.93 115.93L717.09 115.94L718.25 115.94L719.42 115.95L720.58 115.95L721.74 115.95L722.9 115.96L724.06 115.96L725.22 115.97L726.38 115.97L727.55 115.98L728.71 115.98L729.87 115.98L731.03 115.99L732.19 115.99L733.35 116L734.51 116L735.68 116.01L736.84 116.01L738 116.02L739.16 116.02L740.32 116.03L741.48 116.03L742.64 116.04L743.81 116.04L744.97 116.05L746.13 116.05L747.29 116.06L748.45 116.07L749.61 116.07L750.77 116.08L751.94 116.08L753.1 116.09L754.26 116.1L755.42 116.1L756.58 116.11L757.74 116.11L758.9 116.12L760.07 116.13L761.23 116.13L762.39 116.14L763.55 116.15L764.71 116.15L765.87 116.16L767.03 116.17L768.2 116.17L769.36 116.18L770.52 116.19L771.68 116.2L772.84 116.2L774 116.21L775.16 116.22L776.33 116.23L777.49 116.23L778.65 116.24L779.81 116.25L780.97 116.26L782.13 116.27L783.29 116.28L784.46 116.29L785.62 116.29L786.78 116.3L787.94 116.31L789.1 116.32L790.26 116.33L791.42 116.34L792.59 116.35L793.75 116.36L794.91 116.37L796.07 116.38L797.23 116.39L798.39 116.4L799.55 116.42L800.72 116.43L801.88 116.44L803.04 116.45L804.2 116.46L805.36 116.47L806.52 116.49L807.68 116.5L808.85 116.51L810.01 116.52L811.17 116.54L812.33 116.55L813.49 116.56L814.65 116.58L815.81 116.59L816.98 116.61L818.14 116.62L819.3 116.64L820.46 116.65L821.62 116.67L822.78 116.68L823.94 116.7L825.11 116.72L826.27 116.73L827.43 116.75L828.59 116.77L829.75 116.79L830.91 116.8L832.07 116.82L833.24 116.84L834.4 116.86L835.56 116.88L836.72 116.9L837.88 116.92L839.04 116.94L840.2 116.97L841.37 116.99L842.53 117.01L843.69 117.03L844.85 117.06L846.01 117.08L847.17 117.11L848.33 117.13L849.5 117.16L850.66 117.18L851.82 117.21L852.98 117.24L854.14 117.26L855.3 117.29L856.46 117.32L857.63 117.35L858.79 117.38L859.95 117.41L861.11 117.45L862.27 117.48L863.43 117.51L864.59 117.55L865.76 117.58L866.92 117.62L868.08 117.66L869.24 117.69L870.4 117.73L871.56 117.77L872.72 117.81L873.89 117.85L875.05 117.9L876.21 117.94L877.37 117.98L878.53 118.03L879.69 118.08L880.85 118.12L882.02 118.17L883.18 118.22L884.34 118.27L885.5 118.33L886.66 118.38L887.82 118.43L888.98 118.49L890.15 118.55L891.31 118.61L892.47 118.67L893.63 118.73L894.79 118.79L895.95 118.86L897.11 118.93L898.28 119L899.44 119.07L900.6 119.14L901.76 119.21L902.92 119.29L904.08 119.37L905.24 119.45L906.41 119.53L907.57 119.61L908.73 119.7L909.89 119.79L911.05 119.88L912.21 119.97L913.37 120.07L914.54 120.16L915.7 120.26L916.86 120.37L918.02 120.47L919.18 120.58L920.34 120.69L921.5 120.81L922.67 120.92L923.83 121.04L924.99 121.17L926.15 121.29L927.31 121.42L928.47 121.56L929.63 121.7L930.8 121.84L931.96 121.98L933.12 122.13L934.28 122.28L935.44 122.44L936.6 122.6L937.76 122.76L938.93 122.93L940.09 123.1L941.25 123.28L942.41 123.47L943.57 123.65L944.73 123.85L945.89 124.05L947.06 124.25L948.22 124.46L949.38 124.67L950.54 124.89L951.7 125.12L952.86 125.35L954.02 125.59L955.19 125.84L956.35 126.09L957.51 126.35L958.67 126.62L959.83 126.89L960.99 127.17L962.15 127.46L963.31 127.76L964.48 128.06L965.64 128.37L966.8 128.69L967.96 129.03L969.12 129.36L970.28 129.71L971.44 130.07L972.61 130.44L973.77 130.82L974.93 131.21L976.09 131.61L977.25 132.02L978.41 132.44L979.57 132.88L980.74 133.32L981.9 133.78L983.06 134.25L984.22 134.74L985.38 135.23L986.54 135.75L987.7 136.27L988.86 136.81L990.03 137.37L991.19 137.94L992.35 138.53L993.51 139.13L994.67 139.75L995.83 140.39L996.99 141.04L998.16 141.72L999.32 142.41L1000.48 143.12L1001.64 143.86L1002.8 144.61L1003.96 145.38L1005.12 146.18L1006.28 147L1007.45 147.84L1008.61 148.7L1009.77 149.59L1010.93 150.51L1012.09 151.45L1013.25 152.41L1014.41 153.41L1015.58 154.43L1016.74 155.48L1017.9 156.56L1019.06 157.67L1020.22 158.81L1021.38 159.99L1022.54 161.2L1023.7 162.44L1024.87 163.72L1026.03 165.03L1027.19 166.38L1028.35 167.77L1029.51 169.2L1030.67 170.67L1031.83 172.18L1032.99 173.73L1034.16 175.33L1035.32 176.97L1036.48 178.66L1037.64 180.4L1038.8 182.19L1039.96 184.03L1041.12 185.92L1042.28 187.86L1043.44 189.86L1044.61 191.92L1045.77 194.04L1046.93 196.21L1048.09 198.45L1049.25 200.75L1050.41 203.12L1051.57 205.55L1052.73 208.06L1053.89 210.64L1055.06 213.29L1056.22 216.01L1057.38 218.81L1058.54 221.7L1059.7 224.66L1060.86 227.72L1062.02 230.85L1063.18 234.08L1064.34 237.4L1065.5 240.82L1066.66 244.33L1067.83 247.95L1068.99 251.66L1070.15 255.49L1071.31 259.42L1072.47 263.47L1073.63 267.63L1074.79 271.92L1075.95 276.32L1077.11 280.85L1078.27 285.52L1079.43 290.31L1080.59 295.25L1081.75 300.32L1082.92 305.54L1084.08 310.91L1085.24 316.44L1086.4 322.13L1087.56 327.97L1088.72 333.99L1089.88 340.18L1091.04 346.55L1092.2 353.1L1093.36 359.84L1094.52 366.78L1095.68 373.91L1096.84 381.25L1098 388.8L1099.16 396.57L1100.32 404.56L1101.48 412.79L1102.64 421.25L1103.8 429.95L1104.96 438.91L1106.12 448.12L1107.28 457.6L1108.44 467.35L1109.6 477.39L1110.76 487.71L1111.92 498.34L1113.08 509.27L1114.24 520.51L1115.4 532.08L1116.56 543.99L1117.72 556.24L1118.88 568.84L1120.04 581.81L1121.2 595.15L1122.36 608.88L1123.52 623.01L1124.68 637.54L1125.84 652.5L1127 667.88L1128.15 683.72L1129.31 700.01L1130.47 716.77L1131.63 734.02L1132.79 751.77L1133.95 770.03L1135.11 788.83L1136.27 808.16L1137.42 828.06L1138.58 848.53L1139.74 869.6L1140.9 891.28L1142.06 913.59L1143.22 936.54L1144.37 960.16L1145.53 984.46L1146.69 1009.48L1147.85 1035.21L1149 1061.69L1150.16 1088.95L1151.32 1116.99L1152.48 1145.85L1153.63 1175.54L1154.79 1206.1L1155.95 1237.54L1157.1 1269.9L1158.26 1303.2L1159.42 1337.47L1160.57 1372.73L1161.73 1409.02" stroke="#e67e04"/>
<rect x="1076.95" y="332.95" width="30.1" height="30.1" fill="#fff" stroke="#e67e04" stroke-width="7.7" stroke-linejoin="miter"/>
<rect x="1106.95" y="587.95" width="30.1" height="30.1" fill="#fff" stroke="#e67e04" stroke-width="7.7" stroke-linejoin="miter"/>
<rect x="1126.7" y="899.45" width="30.1" height="30.1" fill="#fff" stroke="#e67e04" stroke-width="7.7" stroke-linejoin="miter"/>
<path d="M291.5 116.44L288.04 116.45L289.76 116.46L291.49 116.48L293.22 116.49L294.95 116.5L296.68 116.52L298.41 116.53L300.14 116.54L301.87 116.56L303.6 116.57L305.33 116.59L307.05 116.6L308.78 116.61L310.51 116.63L312.24 116.64L313.97 116.65L315.7 116.67L317.43 116.68L319.16 116.69L320.89 116.71L322.62 116.72L324.34 116.74L326.07 116.75L327.8 116.76L329.53 116.78L331.26 116.79L332.99 116.81L334.72 116.82L336.45 116.83L338.18 116.85L339.91 116.86L341.63 116.88L343.36 116.89L345.09 116.9L346.82 116.92L348.55 116.93L350.28 116.95L352.01 116.96L353.74 116.98L355.47 116.99L357.2 117L358.92 117.02L360.65 117.03L362.38 117.05L364.11 117.06L365.84 117.08L367.57 117.09L369.3 117.11L371.03 117.12L372.76 117.14L374.49 117.15L376.21 117.17L377.94 117.18L379.67 117.2L381.4 117.21L383.13 117.22L384.86 117.24L386.59 117.25L388.32 117.27L390.05 117.29L391.29 117.3L392.53 117.31L393.77 117.32L395.02 117.33L396.26 117.34L397.5 117.35L398.75 117.36L399.99 117.37L401.23 117.38L402.47 117.39L403.72 117.41L404.96 117.42L406.2 117.43L407.45 117.44L408.69 117.45L409.93 117.46L411.17 117.47L412.42 117.48L413.66 117.5L414.9 117.51L416.14 117.52L417.39 117.53L418.63 117.54L419.87 117.55L421.12 117.56L422.36 117.57L423.6 117.59L424.84 117.6L426.09 117.61L427.33 117.62L428.57 117.63L429.81 117.64L431.06 117.65L432.3 117.67L433.54 117.68L434.79 117.69L436.03 117.7L437.27 117.71L438.51 117.72L439.76 117.74L441 117.75L442.24 117.76L443.49 117.77L444.73 117.78L445.97 117.8L447.21 117.81L448.46 117.82L449.7 117.83L450.94 117.84L452.18 117.86L453.43 117.87L454.67 117.88L455.91 117.89L457.16 117.9L458.4 117.92L459.64 117.93L460.88 117.94L462.13 117.95L463.37 117.96L464.61 117.98L465.86 117.99L467.1 118L468.34 118.01L469.58 118.03L470.83 118.04L472.07 118.05L473.31 118.06L474.55 118.08L475.8 118.09L477.04 118.1L478.28 118.11L479.53 118.13L480.77 118.14L482.01 118.15L483.25 118.16L484.5 118.18L485.74 118.19L486.98 118.2L488.22 118.22L489.47 118.23L490.71 118.24L491.95 118.25L493.2 118.27L494.44 118.28L495.68 118.29L496.92 118.31L498.17 118.32L499.41 118.33L500.65 118.35L501.9 118.36L503.14 118.37L504.38 118.39L505.62 118.4L506.87 118.41L508.11 118.43L509.35 118.44L510.59 118.45L511.84 118.47L513.08 118.48L514.32 118.49L515.57 118.51L516.81 118.52L518.05 118.53L519.29 118.55L520.54 118.56L521.78 118.58L523.02 118.59L524.27 118.6L525.51 118.62L526.75 118.63L527.99 118.64L529.24 118.66L530.48 118.67L531.72 118.69L532.96 118.7L534.21 118.72L535.45 118.73L536.69 118.74L537.94 118.76L539.18 118.77L540.42 118.79L541.66 118.8L542.91 118.82L544.15 118.83L545.39 118.85L546.64 118.86L547.88 118.88L549.12 118.89L550.36 118.91L551.61 118.92L552.85 118.93L554.09 118.95L555.33 118.97L556.58 118.98L557.82 119L559.06 119.01L560.31 119.03L561.55 119.04L562.79 119.06L564.03 119.07L565.28 119.09L566.52 119.1L567.76 119.12L569.01 119.13L570.25 119.15L571.49 119.17L572.73 119.18L573.98 119.2L575.22 119.21L576.46 119.23L577.7 119.25L578.95 119.26L580.19 119.28L581.43 119.3L582.68 119.31L583.92 119.33L585.16 119.34L586.4 119.36L587.65 119.38L588.89 119.39L590.13 119.41L591.38 119.43L592.62 119.45L593.86 119.46L595.1 119.48L596.35 119.5L597.59 119.52L598.83 119.53L600.07 119.55L601.32 119.57L602.56 119.59L603.8 119.6L605.05 119.62L606.29 119.64L607.53 119.66L608.77 119.68L610.02 119.69L611.26 119.71L612.5 119.73L613.75 119.75L614.99 119.77L616.23 119.79L617.47 119.81L618.72 119.83L619.96 119.85L621.2 119.87L622.45 119.88L623.69 119.9L624.93 119.92L626.17 119.94L627.42 119.96L628.66 119.98L629.9 120.01L631.14 120.03L632.39 120.05L633.63 120.07L634.87 120.09L636.12 120.11L637.36 120.13L638.6 120.15L639.84 120.18L641.09 120.2L642.33 120.22L643.57 120.24L644.82 120.26L646.06 120.29L647.3 120.31L648.54 120.33L649.79 120.36L651.03 120.38L652.27 120.4L653.52 120.43L654.76 120.45L656 120.48L657.24 120.5L658.49 120.53L659.73 120.55L660.97 120.58L662.22 120.6L663.46 120.63L664.7 120.66L665.94 120.68L667.19 120.71L668.43 120.74L669.67 120.77L670.92 120.8L672.16 120.82L673.4 120.85L674.64 120.88L675.89 120.91L677.13 120.94L678.37 120.97L679.62 121L680.86 121.04L682.1 121.07L683.34 121.1L684.59 121.13L685.83 121.17L687.07 121.2L688.32 121.23L689.56 121.27L690.8 121.31L692.04 121.34L693.29 121.38L694.53 121.41L695.77 121.45L697.02 121.49L698.26 121.53L699.5 121.57L700.74 121.61L701.99 121.65L703.23 121.69L704.47 121.74L705.72 121.78L706.96 121.82L708.2 121.87L709.44 121.92L710.69 121.96L711.93 122.01L713.17 122.06L714.42 122.11L715.66 122.16L716.9 122.21L718.15 122.26L719.39 122.32L720.63 122.37L721.87 122.43L723.12 122.49L724.36 122.54L725.6 122.6L726.85 122.66L728.09 122.73L729.33 122.79L730.58 122.86L731.82 122.92L733.06 122.99L734.3 123.06L735.55 123.13L736.79 123.2L738.03 123.28L739.28 123.35L740.52 123.43L741.76 123.51L743.01 123.59L744.25 123.68L745.49 123.76L746.74 123.85L747.98 123.94L749.22 124.04L750.47 124.13L751.71 124.23L752.95 124.33L754.2 124.43L755.44 124.53L756.68 124.64L757.92 124.75L759.17 124.86L760.41 124.98L761.65 125.1L762.9 125.22L764.14 125.35L765.38 125.47L766.63 125.61L767.87 125.74L769.12 125.88L770.36 126.02L771.6 126.17L772.85 126.32L774.09 126.48L775.33 126.64L776.58 126.8L777.82 126.97L779.06 127.14L780.31 127.32L781.55 127.5L782.79 127.69L784.04 127.88L785.28 128.08L786.53 128.28L787.77 128.49L789.01 128.7L790.26 128.92L791.5 129.15L792.74 129.38L793.99 129.63L795.23 129.87L796.48 130.13L797.72 130.39L798.96 130.66L800.21 130.93L801.45 131.22L802.7 131.51L803.94 131.81L805.19 132.12L806.43 132.44L807.67 132.77L808.92 133.11L810.16 133.46L811.41 133.81L812.65 134.18L813.9 134.56L815.14 134.95L816.39 135.35L817.63 135.77L818.88 136.19L820.12 136.63L821.37 137.08L822.61 137.54L823.86 138.02L825.1 138.51L826.35 139.02L827.59 139.54L828.84 140.08L830.08 140.63L831.33 141.2L832.57 141.78L833.82 142.39L835.07 143.01L836.31 143.65L837.56 144.31L838.8 144.98L840.05 145.68L841.3 146.4L842.54 147.14L843.79 147.9L845.04 148.69L846.28 149.49L847.53 150.33L848.78 151.18L850.03 152.06L851.27 152.97L852.52 153.91L853.77 154.87L855.02 155.86L856.26 156.88L857.51 157.94L858.76 159.02L860.01 160.13L861.26 161.28L862.51 162.47L863.76 163.68L865 164.94L866.25 166.23L867.5 167.56L868.75 168.93L870 170.34L871.25 171.79L872.5 173.29L873.75 174.83L875.01 176.41L876.26 178.05L877.51 179.73L878.76 181.46L880.01 183.24L881.26 185.08L882.52 186.97L883.77 188.91L885.02 190.92L886.27 192.98L887.53 195.11L888.78 197.29L890.04 199.55L891.29 201.87L892.55 204.26L893.8 206.71L895.06 209.25L896.31 211.85L897.57 214.54L898.83 217.3L900.08 220.15L901.34 223.08L902.6 226.09L903.86 229.2L905.12 232.39L906.38 235.68L907.64 239.07L908.9 242.56L910.16 246.15L911.42 249.84L912.68 253.65L913.95 257.57L915.21 261.6L916.47 265.75L917.74 270.02L919.01 274.42L920.27 278.94L921.54 283.6L922.81 288.4L924.07 293.34L925.34 298.42L926.61 303.65L927.88 309.03L929.15 314.57L930.43 320.27L931.7 326.14L932.97 332.18L934.25 338.4L935.52 344.8L936.8 351.38L938.08 358.16L939.36 365.13L940.64 372.31L941.92 379.69L943.2 387.29L944.48 395.11L945.77 403.16L947.05 411.44L948.34 419.96L949.63 428.73L950.91 437.75L952.21 447.03L953.5 456.58L954.79 466.41L956.09 476.52L957.38 486.93L958.68 497.63L959.98 508.64L961.28 519.97L962.58 531.63L963.89 543.62L965.19 555.95L966.5 568.64L967.81 581.7L969.12 595.13L970.44 608.94L971.75 623.15L973.07 637.77L974.39 652.81L975.71 668.28L977.04 684.19L978.37 700.55L979.7 717.38L981.03 734.7L982.36 752.5L983.7 770.82L985.04 789.65L986.38 809.03L987.73 828.95L989.08 849.44L990.43 870.51L991.78 892.18L993.14 914.47L994.5 937.39L995.86 960.95L997.23 985.19L998.6 1010.11L999.98 1035.73L1001.36 1062.08L1002.74 1089.18L1004.12 1117.04L1005.51 1145.68L1006.91 1175.14L1008.31 1205.42L1009.71 1236.55L1011.12 1268.57L1012.53 1301.48L1013.95 1335.31L1015.37 1370.1L1016.8 1405.86" stroke="#d65018"/>
<path d="M929.35 364.6L954.15 389.4M929.35 389.4L954.15 364.6" fill="none" stroke="#d65018" stroke-width="7.4"/>
<path d="M959.35 606.35L984.15 631.15M959.35 631.15L984.15 606.35" fill="none" stroke="#d65018" stroke-width="7.4"/>
<path d="M979.6 880.85L1004.4 905.65M979.6 905.65L1004.4 880.85" fill="none" stroke="#d65018" stroke-width="7.4"/>
</g>
<path d="M353 643.5H495" stroke="#009392" stroke-width="11" fill="none"/>
<polygon points="424,623.3 441.49,653.6 406.51,653.6" fill="#fff" stroke="#009392" stroke-width="7.7" stroke-linejoin="miter"/>
<path d="M353 741.3H495" stroke="#65bd96" stroke-width="11" fill="none"/>
<polygon points="424,721.1 439.15,741.3 424,761.5 408.85,741.3" fill="#fff" stroke="#65bd96" stroke-width="7.7" stroke-linejoin="miter"/>
<path d="M353 839.4H495" stroke="#c48d2a" stroke-width="11" fill="none"/>
<circle cx="424" cy="839.4" r="16.7" fill="#fff" stroke="#c48d2a" stroke-width="7.5"/>
<path d="M353 937.4H495" stroke="#e67e04" stroke-width="11" fill="none"/>
<rect x="408.95" y="922.35" width="30.1" height="30.1" fill="#fff" stroke="#e67e04" stroke-width="7.7" stroke-linejoin="miter"/>
<path d="M353 1035.6H495" stroke="#d65018" stroke-width="11" fill="none"/>
<path d="M411.6 1023.2L436.4 1048M411.6 1048L436.4 1023.2" fill="none" stroke="#d65018" stroke-width="7.4"/>
</g>
<g id="plotB">
<clipPath id="gclipB"><rect x="289" y="1496.05" width="1520" height="1088.5"/></clipPath>
<path d="M291.5 2579V1498.5M518.85 2579V1498.5M746.2 2579V1498.5M973.55 2579V1498.5M1200.89 2579V1498.5M1428.24 2579V1498.5M1655.59 2579V1498.5M291.5 2579H1792M291.5 2333.45H1792M291.5 2087.9H1792M291.5 1842.35H1792M291.5 1596.8H1792" fill="none" stroke="#000" stroke-width="6" stroke-linecap="round" stroke-dasharray="0.9 22.74" clip-path="url(#gclipB)"/>
<path d="M291.5 2579v-36M291.5 1498.5v36M336.97 2579v-24M336.97 1498.5v24M382.44 2579v-24M382.44 1498.5v24M427.91 2579v-24M427.91 1498.5v24M473.38 2579v-24M473.38 1498.5v24M518.85 2579v-36M518.85 1498.5v36M564.32 2579v-24M564.32 1498.5v24M609.79 2579v-24M609.79 1498.5v24M655.26 2579v-24M655.26 1498.5v24M700.73 2579v-24M700.73 1498.5v24M746.2 2579v-36M746.2 1498.5v36M791.67 2579v-24M791.67 1498.5v24M837.14 2579v-24M837.14 1498.5v24M882.61 2579v-24M882.61 1498.5v24M928.08 2579v-24M928.08 1498.5v24M973.55 2579v-36M973.55 1498.5v36M1019.02 2579v-24M1019.02 1498.5v24M1064.48 2579v-24M1064.48 1498.5v24M1109.95 2579v-24M1109.95 1498.5v24M1155.42 2579v-24M1155.42 1498.5v24M1200.89 2579v-36M1200.89 1498.5v36M1246.36 2579v-24M1246.36 1498.5v24M1291.83 2579v-24M1291.83 1498.5v24M1337.3 2579v-24M1337.3 1498.5v24M1382.77 2579v-24M1382.77 1498.5v24M1428.24 2579v-36M1428.24 1498.5v36M1473.71 2579v-24M1473.71 1498.5v24M1519.18 2579v-24M1519.18 1498.5v24M1564.65 2579v-24M1564.65 1498.5v24M1610.12 2579v-24M1610.12 1498.5v24M1655.59 2579v-36M1655.59 1498.5v36M1701.06 2579v-24M1701.06 1498.5v24M1746.53 2579v-24M1746.53 1498.5v24M1792 2579v-24M1792 1498.5v24M291.5 2579h36M1792 2579h-36M291.5 2529.89h24M1792 2529.89h-24M291.5 2480.78h24M1792 2480.78h-24M291.5 2431.67h24M1792 2431.67h-24M291.5 2382.56h24M1792 2382.56h-24M291.5 2333.45h36M1792 2333.45h-36M291.5 2284.34h24M1792 2284.34h-24M291.5 2235.23h24M1792 2235.23h-24M291.5 2186.12h24M1792 2186.12h-24M291.5 2137.01h24M1792 2137.01h-24M291.5 2087.9h36M1792 2087.9h-36M291.5 2038.79h24M1792 2038.79h-24M291.5 1989.68h24M1792 1989.68h-24M291.5 1940.57h24M1792 1940.57h-24M291.5 1891.46h24M1792 1891.46h-24M291.5 1842.35h36M1792 1842.35h-36M291.5 1793.24h24M1792 1793.24h-24M291.5 1744.13h24M1792 1744.13h-24M291.5 1695.02h24M1792 1695.02h-24M291.5 1645.91h24M1792 1645.91h-24M291.5 1596.8h36M1792 1596.8h-36" fill="none" stroke="#000" stroke-width="2"/>
<rect x="337" y="1922.0" width="640.5" height="623.0" fill="#fff"/>
<rect x="289" y="1496.05" width="5" height="1084.8" fill="#000"/>
<rect x="1790.2" y="1496.05" width="3.8" height="1084.8" fill="#000"/>
<rect x="289" y="1496.05" width="1505" height="4.85" fill="#000"/>
<rect x="289" y="2577.15" width="1505" height="3.7" fill="#000"/>
<clipPath id="clipB"><rect x="290.5" y="1498.5" width="1501.5" height="1080.5"/></clipPath>
<g clip-path="url(#clipB)" fill="none" stroke-width="11" stroke-linejoin="round">
<path d="M291.5 1657.5L1094.99 1657.5L1097.37 1657.5L1099.75 1657.5L1102.13 1657.5L1104.51 1657.5L1106.88 1657.51L1109.26 1657.51L1111.64 1657.52L1114.02 1657.52L1116.4 1657.53L1118.77 1657.54L1121.15 1657.55L1123.53 1657.56L1125.91 1657.58L1128.28 1657.59L1130.66 1657.61L1133.04 1657.64L1135.41 1657.71L1137.79 1657.79L1140.17 1657.89L1142.54 1658L1144.92 1658.12L1147.29 1658.25L1149.67 1658.38L1152.04 1658.52L1154.41 1658.67L1156.78 1658.84L1159.16 1659.02L1161.53 1659.22L1163.9 1659.44L1166.27 1659.66L1168.63 1659.9L1171 1660.15L1173.36 1660.41L1175.72 1660.68L1178.08 1660.97L1180.44 1661.28L1182.81 1661.61L1185.17 1661.97L1187.53 1662.35L1189.88 1662.75L1192.23 1663.17L1194.56 1663.63L1196.88 1664.11L1199.18 1664.61L1201.47 1665.16L1203.77 1665.76L1206.07 1666.42L1208.37 1667.13L1210.65 1667.9L1212.92 1668.71L1215.18 1669.57L1217.4 1670.48L1219.59 1671.42L1221.74 1672.4L1223.84 1673.42L1225.89 1674.47L1227.91 1675.64L1229.9 1676.9L1231.86 1678.26L1233.79 1679.69L1235.69 1681.18L1237.56 1682.71L1239.4 1684.28L1241.21 1685.86L1242.99 1687.43L1244.75 1689.01L1246.48 1690.61L1248.19 1692.26L1249.88 1693.94L1251.54 1695.65L1253.18 1697.39L1254.8 1699.15L1256.4 1700.93L1257.97 1702.73L1259.52 1704.54L1261.05 1706.36L1262.56 1708.18L1264.04 1710.02L1265.51 1711.89L1266.95 1713.77L1268.37 1715.68L1269.77 1717.6L1271.16 1719.53L1272.53 1721.48L1273.89 1723.44L1275.24 1725.41L1276.58 1727.39L1277.9 1729.37L1279.22 1731.35L1280.54 1733.33L1281.84 1735.31L1283.14 1737.3L1284.43 1739.3L1285.71 1741.3L1286.99 1743.31L1288.25 1745.32L1289.5 1747.35L1290.75 1749.37L1291.98 1751.41L1293.21 1753.45L1294.43 1755.49L1295.65 1757.54L1296.85 1759.59L1298.05 1761.64L1299.24 1763.7L1300.43 1765.76L1301.6 1767.82L1302.77 1769.89L1303.93 1771.97L1305.07 1774.05L1306.21 1776.14L1307.35 1778.23L1308.47 1780.33L1309.58 1782.43L1310.69 1784.54L1311.79 1786.64L1312.88 1788.75L1313.97 1790.87L1315.04 1792.99L1316.11 1795.11L1317.16 1797.24L1318.22 1799.37L1319.26 1801.51L1320.3 1803.65L1321.34 1805.79L1322.37 1807.93L1323.4 1810.07L1324.42 1812.22L1325.45 1814.37L1326.47 1816.51L1327.49 1818.66L1328.51 1820.81L1329.53 1822.96L1330.55 1825.11L1331.57 1827.25L1332.6 1829.4L1333.63 1831.54L1334.66 1833.69L1335.7 1835.83L1336.74 1837.96L1337.79 1840.1L1338.84 1842.23L1339.89 1844.36L1340.94 1846.5L1342 1848.63L1343.05 1850.76L1344.11 1852.89L1345.17 1855.02L1346.23 1857.15L1347.29 1859.27L1348.35 1861.4L1349.41 1863.53L1350.47 1865.66L1351.53 1867.78L1352.6 1869.91L1353.66 1872.04L1354.72 1874.16L1355.79 1876.29L1356.85 1878.42L1357.92 1880.54L1358.98 1882.67L1360.05 1884.79L1361.11 1886.92L1362.18 1889.05L1363.24 1891.17L1364.31 1893.3L1365.37 1895.42L1366.43 1897.55L1367.5 1899.68L1368.56 1901.81L1369.62 1903.93L1370.68 1906.06L1371.74 1908.19L1372.8 1910.32L1373.86 1912.45L1374.92 1914.58L1375.97 1916.71L1377.03 1918.84L1378.09 1920.97L1379.14 1923.1L1380.2 1925.23L1381.25 1927.36L1382.31 1929.49L1383.36 1931.62L1384.42 1933.75L1385.47 1935.88L1386.53 1938.01L1387.58 1940.15L1388.63 1942.28L1389.69 1944.41L1390.74 1946.54L1391.79 1948.67L1392.85 1950.8L1393.9 1952.94L1394.95 1955.07L1396.01 1957.2L1397.06 1959.33L1398.11 1961.46L1399.17 1963.59L1400.22 1965.72L1401.28 1967.86L1402.33 1969.99L1403.39 1972.12L1404.44 1974.25L1405.5 1976.38L1406.55 1978.51L1407.61 1980.64L1408.67 1982.77L1409.72 1984.9L1410.78 1987.03L1411.84 1989.16L1412.9 1991.29L1413.96 1993.41L1415.02 1995.54L1416.08 1997.67L1417.14 1999.8L1418.2 2001.92L1419.27 2004.05L1420.33 2006.18L1421.39 2008.3L1422.46 2010.43L1423.52 2012.56L1424.59 2014.68L1425.65 2016.81L1426.72 2018.94L1427.78 2021.06L1428.85 2023.19L1429.91 2025.31L1430.98 2027.44L1432.04 2029.56L1433.11 2031.69L1434.18 2033.81L1435.25 2035.94L1436.32 2038.06L1437.39 2040.18L1438.47 2042.3L1439.54 2044.42L1440.62 2046.54L1441.7 2048.66L1442.78 2050.78L1443.87 2052.89L1444.96 2055.01L1446.05 2057.12L1447.14 2059.23L1448.23 2061.34L1449.32 2063.46L1450.42 2065.57L1451.52 2067.68L1452.62 2069.78L1453.72 2071.89L1454.83 2073.99L1455.94 2076.1L1457.06 2078.2L1458.18 2080.29L1459.3 2082.39L1460.44 2084.48L1461.57 2086.56L1462.72 2088.65L1463.86 2090.73L1465.02 2092.81L1466.18 2094.88L1467.34 2096.96L1468.51 2099.03L1469.68 2101.1L1470.85 2103.16L1472.03 2105.23L1473.21 2107.3L1474.39 2109.36L1475.57 2111.42L1476.76 2113.48L1477.95 2115.54L1479.13 2117.6L1480.32 2119.66L1481.51 2121.72L1482.7 2123.78L1483.89 2125.84L1485.08 2127.9L1486.27 2129.96L1487.45 2132.02L1488.64 2134.08L1489.82 2136.15L1491 2138.21L1492.18 2140.28L1493.36 2142.34L1494.53 2144.41L1495.7 2146.48L1496.87 2148.55L1498.04 2150.62L1499.21 2152.69L1500.37 2154.77L1501.54 2156.84L1502.7 2158.92L1503.86 2160.99L1505.02 2163.07L1506.18 2165.14L1507.34 2167.22L1508.5 2169.29L1509.66 2171.37L1510.82 2173.45L1511.98 2175.52L1513.14 2177.6L1514.3 2179.68L1515.46 2181.75L1516.62 2183.83L1517.78 2185.91L1518.94 2187.98L1520.11 2190.06L1521.27 2192.13L1522.43 2194.21L1523.6 2196.28L1524.76 2198.35L1525.93 2200.42L1527.1 2202.5L1528.27 2204.57L1529.44 2206.63L1530.61 2208.7L1531.79 2210.77L1532.97 2212.83L1534.15 2214.9L1535.33 2216.96L1536.51 2219.02L1537.7 2221.08L1538.89 2223.14L1540.08 2225.2L1541.28 2227.25L1542.48 2229.3L1543.68 2231.35L1544.88 2233.4L1546.09 2235.45L1547.3 2237.49L1548.52 2239.53L1549.73 2241.57L1550.95 2243.61L1552.18 2245.65L1553.4 2247.69L1554.62 2249.73L1555.84 2251.77L1557.07 2253.81L1558.3 2255.85L1559.52 2257.88L1560.75 2259.92L1561.99 2261.96L1563.22 2263.99L1564.46 2266.03L1565.69 2268.06L1566.93 2270.09L1568.17 2272.12L1569.42 2274.15L1570.67 2276.18L1571.92 2278.2L1573.17 2280.23L1574.42 2282.25L1575.68 2284.27L1576.94 2286.29L1578.21 2288.3L1579.48 2290.32L1580.75 2292.33L1582.02 2294.34L1583.3 2296.34L1584.58 2298.35L1585.87 2300.35L1587.16 2302.34L1588.45 2304.34L1589.75 2306.33L1591.05 2308.32L1592.36 2310.3L1593.67 2312.28L1594.99 2314.26L1596.31 2316.23L1597.64 2318.2L1598.97 2320.17L1600.3 2322.13L1601.65 2324.09L1603 2326.04L1604.36 2327.98L1605.74 2329.91L1607.13 2331.84L1608.53 2333.77L1609.93 2335.68L1611.34 2337.6L1612.76 2339.5L1614.18 2341.41L1615.61 2343.31L1617.04 2345.21L1618.48 2347.11L1619.91 2349.01L1621.34 2350.91L1622.78 2352.81L1624.21 2354.72L1625.63 2356.62L1627.06 2358.53L1628.47 2360.44L1629.88 2362.35L1631.29 2364.27L1632.7 2366.18L1634.11 2368.1L1635.52 2370.01L1636.93 2371.93L1638.34 2373.84L1639.75 2375.76L1641.16 2377.67L1642.57 2379.59L1643.98 2381.5L1645.39 2383.42L1646.79 2385.34L1648.19 2387.26L1649.59 2389.18L1650.99 2391.1L1652.38 2393.03L1653.78 2394.96L1655.16 2396.89L1656.54 2398.82L1657.92 2400.76L1659.3 2402.7L1660.67 2404.64L1662.04 2406.59L1663.41 2408.53L1664.77 2410.48L1666.13 2412.43L1667.49 2414.38L1668.84 2416.34L1670.19 2418.3L1671.53 2420.26L1672.87 2422.22L1674.2 2424.2L1675.52 2426.17L1676.84 2428.15L1678.15 2430.13L1679.47 2432.11L1680.78 2434.1L1682.09 2436.09L1683.38 2438.09L1684.66 2440.09L1685.92 2442.11L1687.15 2444.14L1688.35 2446.19L1689.55 2448.25L1690.74 2450.32L1691.9 2452.4L1693 2454.51L1694.02 2456.65L1694.94 2458.82L1695.82 2461.02L1696.67 2463.24L1697.48 2465.48L1698.26 2467.73L1699.01 2470L1699.72 2472.28L1700.4 2474.57L1701.05 2476.86L1701.67 2479.16L1702.26 2481.45L1702.82 2483.76L1703.35 2486.07L1703.87 2488.39L1704.36 2490.72L1704.83 2493.05L1705.29 2495.39L1705.74 2497.73L1706.18 2500.07L1706.6 2502.41L1707.03 2504.75L1707.44 2507.09L1707.84 2509.44L1708.24 2511.78L1708.62 2514.13L1709 2516.48L1709.37 2518.83L1709.73 2521.18L1710.08 2523.53L1710.42 2525.88L1710.75 2528.24L1711.07 2530.59L1711.38 2532.95L1711.68 2535.31L1711.97 2537.67L1712.25 2540.03L1712.52 2542.39L1712.8 2544.75L1713.07 2547.12L1713.34 2549.48L1713.61 2551.84L1713.89 2554.2L1714.18 2556.56L1714.47 2558.92L1714.77 2561.28L1715.07 2563.64L1715.37 2566L1715.66 2568.36L1715.95 2570.72L1716.24 2573.08L1716.51 2575.44L1716.77 2577.8L1717.03 2580.17L1717.27 2582.53L1717.51 2584.9L1717.75 2587.26L1717.97 2589.63L1718.19 2592" stroke="#4b62d8"/>
<path d="M1322.5 1824.5L1352.5 1854.5M1322.5 1854.5L1352.5 1824.5" fill="none" stroke="#4b62d8" stroke-width="7.4"/>
<path d="M1431.25 2042.5L1461.25 2072.5M1431.25 2072.5L1461.25 2042.5" fill="none" stroke="#4b62d8" stroke-width="7.4"/>
<path d="M1586.25 2308.75L1616.25 2338.75M1586.25 2338.75L1616.25 2308.75" fill="none" stroke="#4b62d8" stroke-width="7.4"/>
<path d="M291.5 1593.83L288.39 1593.86L304.72 1593.89L321.05 1593.92L337.38 1593.95L353.71 1593.98L370.04 1594.01L386.37 1594.04L402.69 1594.07L419.02 1594.1L435.35 1594.13L451.68 1594.16L468.01 1594.19L484.34 1594.22L500.67 1594.24L517 1594.27L533.33 1594.3L549.66 1594.33L565.99 1594.36L582.31 1594.39L598.64 1594.42L614.97 1594.45L631.3 1594.48L647.63 1594.51L663.96 1594.54L680.29 1594.57L696.62 1594.6L712.95 1594.63L729.28 1594.66L745.6 1594.69L761.93 1594.72L778.26 1594.76L794.59 1594.79L810.92 1594.82L827.25 1594.85L843.58 1594.88L859.91 1594.91L876.24 1594.94L892.57 1594.97L908.9 1595L925.22 1595.03L941.55 1595.06L957.88 1595.1L974.21 1595.13L990.54 1595.16L1006.87 1595.19L1023.2 1595.23L1039.53 1595.26L1055.86 1595.3L1072.19 1595.33L1088.52 1595.37L1104.85 1595.4L1121.17 1595.44L1137.5 1595.48L1153.83 1595.52L1170.16 1595.57L1186.49 1595.61L1202.82 1595.66L1219.15 1595.72L1235.48 1595.77L1251.81 1595.84L1252.6 1595.84L1253.39 1595.84L1254.18 1595.85L1254.97 1595.85L1255.75 1595.85L1256.54 1595.86L1257.33 1595.86L1258.12 1595.86L1258.91 1595.86L1259.7 1595.87L1260.49 1595.87L1261.28 1595.87L1262.06 1595.88L1262.85 1595.88L1263.64 1595.89L1264.43 1595.89L1265.22 1595.89L1266.01 1595.9L1266.8 1595.9L1267.59 1595.9L1268.38 1595.91L1269.16 1595.91L1269.95 1595.91L1270.74 1595.92L1271.53 1595.92L1272.32 1595.92L1273.11 1595.93L1273.9 1595.93L1274.69 1595.94L1275.47 1595.94L1276.26 1595.94L1277.05 1595.95L1277.84 1595.95L1278.63 1595.95L1279.42 1595.96L1280.21 1595.96L1281 1595.97L1281.79 1595.97L1282.57 1595.97L1283.36 1595.98L1284.15 1595.98L1284.94 1595.99L1285.73 1595.99L1286.52 1595.99L1287.31 1596L1288.1 1596L1288.88 1596.01L1289.67 1596.01L1290.46 1596.02L1291.25 1596.02L1292.04 1596.02L1292.83 1596.03L1293.62 1596.03L1294.41 1596.04L1295.2 1596.04L1295.98 1596.05L1296.77 1596.05L1297.56 1596.06L1298.35 1596.06L1299.14 1596.06L1299.93 1596.07L1300.72 1596.07L1301.51 1596.08L1302.3 1596.08L1303.08 1596.09L1303.87 1596.09L1304.66 1596.1L1305.45 1596.1L1306.24 1596.11L1307.03 1596.11L1307.82 1596.12L1308.61 1596.12L1309.39 1596.13L1310.18 1596.13L1310.97 1596.14L1311.76 1596.14L1312.55 1596.15L1313.34 1596.15L1314.13 1596.16L1314.92 1596.17L1315.71 1596.17L1316.49 1596.18L1317.28 1596.18L1318.07 1596.19L1318.86 1596.19L1319.65 1596.2L1320.44 1596.21L1321.23 1596.21L1322.02 1596.22L1322.81 1596.22L1323.59 1596.23L1324.38 1596.24L1325.17 1596.24L1325.96 1596.25L1326.75 1596.25L1327.54 1596.26L1328.33 1596.27L1329.12 1596.27L1329.91 1596.28L1330.69 1596.29L1331.48 1596.29L1332.27 1596.3L1333.06 1596.31L1333.85 1596.31L1334.64 1596.32L1335.43 1596.33L1336.22 1596.34L1337.01 1596.34L1337.79 1596.35L1338.58 1596.36L1339.37 1596.36L1340.16 1596.37L1340.95 1596.38L1341.74 1596.39L1342.53 1596.39L1343.32 1596.4L1344.11 1596.41L1344.89 1596.42L1345.68 1596.43L1346.47 1596.43L1347.26 1596.44L1348.05 1596.45L1348.84 1596.46L1349.63 1596.47L1350.42 1596.48L1351.21 1596.49L1351.99 1596.5L1352.78 1596.5L1353.57 1596.51L1354.36 1596.52L1355.15 1596.53L1355.94 1596.54L1356.73 1596.55L1357.52 1596.56L1358.31 1596.57L1359.1 1596.58L1359.88 1596.59L1360.67 1596.6L1361.46 1596.61L1362.25 1596.62L1363.04 1596.63L1363.83 1596.64L1364.62 1596.65L1365.41 1596.66L1366.2 1596.68L1366.99 1596.69L1367.77 1596.7L1368.56 1596.71L1369.35 1596.72L1370.14 1596.73L1370.93 1596.75L1371.72 1596.76L1372.51 1596.77L1373.3 1596.78L1374.09 1596.8L1374.88 1596.81L1375.66 1596.82L1376.45 1596.84L1377.24 1596.85L1378.03 1596.86L1378.82 1596.88L1379.61 1596.89L1380.4 1596.91L1381.19 1596.92L1381.98 1596.93L1382.77 1596.95L1383.55 1596.96L1384.34 1596.98L1385.13 1597L1385.92 1597.01L1386.71 1597.03L1387.5 1597.04L1388.29 1597.06L1389.08 1597.08L1389.87 1597.09L1390.66 1597.11L1391.45 1597.13L1392.23 1597.15L1393.02 1597.17L1393.81 1597.18L1394.6 1597.2L1395.39 1597.22L1396.18 1597.24L1396.97 1597.26L1397.76 1597.28L1398.55 1597.3L1399.34 1597.32L1400.13 1597.34L1400.92 1597.37L1401.7 1597.39L1402.49 1597.41L1403.28 1597.43L1404.07 1597.45L1404.86 1597.48L1405.65 1597.5L1406.44 1597.53L1407.23 1597.55L1408.02 1597.57L1408.81 1597.6L1409.6 1597.63L1410.39 1597.65L1411.18 1597.68L1411.96 1597.71L1412.75 1597.73L1413.54 1597.76L1414.33 1597.79L1415.12 1597.82L1415.91 1597.85L1416.7 1597.88L1417.49 1597.91L1418.28 1597.94L1419.07 1597.97L1419.86 1598L1420.65 1598.04L1421.44 1598.07L1422.23 1598.1L1423.02 1598.14L1423.8 1598.17L1424.59 1598.21L1425.38 1598.25L1426.17 1598.28L1426.96 1598.32L1427.75 1598.36L1428.54 1598.4L1429.33 1598.44L1430.12 1598.48L1430.91 1598.52L1431.7 1598.56L1432.49 1598.61L1433.28 1598.65L1434.07 1598.7L1434.86 1598.74L1435.65 1598.79L1436.44 1598.84L1437.23 1598.88L1438.02 1598.93L1438.81 1598.98L1439.6 1599.04L1440.39 1599.09L1441.18 1599.14L1441.97 1599.2L1442.76 1599.25L1443.55 1599.31L1444.34 1599.37L1445.13 1599.42L1445.92 1599.48L1446.71 1599.55L1447.5 1599.61L1448.29 1599.67L1449.08 1599.74L1449.87 1599.8L1450.66 1599.87L1451.45 1599.94L1452.24 1600.01L1453.03 1600.08L1453.82 1600.16L1454.61 1600.23L1455.4 1600.31L1456.19 1600.39L1456.98 1600.46L1457.77 1600.55L1458.56 1600.63L1459.35 1600.71L1460.14 1600.8L1460.93 1600.89L1461.72 1600.98L1462.51 1601.07L1463.3 1601.17L1464.09 1601.26L1464.88 1601.36L1465.67 1601.46L1466.46 1601.56L1467.26 1601.67L1468.05 1601.77L1468.84 1601.88L1469.63 1601.99L1470.42 1602.11L1471.21 1602.22L1472 1602.34L1472.79 1602.46L1473.58 1602.59L1474.38 1602.71L1475.17 1602.84L1475.96 1602.98L1476.75 1603.11L1477.54 1603.25L1478.33 1603.39L1479.12 1603.53L1479.92 1603.68L1480.71 1603.83L1481.5 1603.99L1482.29 1604.15L1483.08 1604.31L1483.87 1604.47L1484.67 1604.64L1485.46 1604.81L1486.25 1604.99L1487.04 1605.17L1487.84 1605.35L1488.63 1605.54L1489.42 1605.73L1490.21 1605.93L1491.01 1606.13L1491.8 1606.34L1492.59 1606.55L1493.39 1606.77L1494.18 1606.99L1494.97 1607.21L1495.76 1607.44L1496.56 1607.68L1497.35 1607.92L1498.15 1608.17L1498.94 1608.42L1499.73 1608.68L1500.53 1608.95L1501.32 1609.22L1502.12 1609.5L1502.91 1609.78L1503.7 1610.07L1504.5 1610.37L1505.29 1610.67L1506.09 1610.99L1506.88 1611.3L1507.68 1611.63L1508.47 1611.97L1509.27 1612.31L1510.07 1612.66L1510.86 1613.02L1511.66 1613.39L1512.45 1613.76L1513.25 1614.15L1514.05 1614.55L1514.84 1614.95L1515.64 1615.36L1516.44 1615.79L1517.23 1616.22L1518.03 1616.67L1518.83 1617.12L1519.63 1617.59L1520.43 1618.07L1521.22 1618.56L1522.02 1619.06L1522.82 1619.58L1523.62 1620.1L1524.42 1620.64L1525.22 1621.2L1526.02 1621.76L1526.82 1622.35L1527.62 1622.94L1528.42 1623.55L1529.22 1624.18L1530.02 1624.82L1530.83 1625.47L1531.63 1626.15L1532.43 1626.84L1533.23 1627.55L1534.04 1628.27L1534.84 1629.01L1535.64 1629.78L1536.45 1630.56L1537.25 1631.36L1538.06 1632.18L1538.86 1633.02L1539.67 1633.88L1540.47 1634.77L1541.28 1635.68L1542.09 1636.61L1542.9 1637.56L1543.7 1638.54L1544.51 1639.54L1545.32 1640.57L1546.13 1641.63L1546.94 1642.71L1547.75 1643.82L1548.56 1644.96L1549.37 1646.13L1550.19 1647.33L1551 1648.56L1551.81 1649.82L1552.63 1651.12L1553.44 1652.44L1554.26 1653.81L1555.08 1655.21L1555.89 1656.64L1556.71 1658.11L1557.53 1659.62L1558.35 1661.17L1559.17 1662.77L1559.99 1664.4L1560.81 1666.08L1561.63 1667.8L1562.46 1669.56L1563.28 1671.37L1564.11 1673.23L1564.93 1675.14L1565.76 1677.11L1566.59 1679.12L1567.42 1681.18L1568.25 1683.31L1569.08 1685.48L1569.91 1687.72L1570.75 1690.02L1571.58 1692.38L1572.42 1694.8L1573.26 1697.28L1574.1 1699.84L1574.94 1702.46L1575.78 1705.15L1576.62 1707.92L1577.47 1710.76L1578.31 1713.68L1579.16 1716.68L1580.01 1719.76L1580.86 1722.92L1581.72 1726.17L1582.57 1729.51L1583.43 1732.94L1584.28 1736.46L1585.15 1740.08L1586.01 1743.81L1586.87 1747.63L1587.74 1751.56L1588.61 1755.59L1589.48 1759.74L1590.35 1764L1591.22 1768.39L1592.1 1772.89L1592.98 1777.52L1593.87 1782.27L1594.75 1787.16L1595.64 1792.19L1596.53 1797.36L1597.42 1802.67L1598.32 1808.13L1599.22 1813.74L1600.12 1819.51L1601.03 1825.45L1601.94 1831.55L1602.85 1837.82L1603.76 1844.27L1604.68 1850.91L1605.61 1857.73L1606.53 1864.74L1607.47 1871.96L1608.4 1879.38L1609.34 1887.01L1610.28 1894.86L1611.23 1902.93L1612.18 1911.24L1613.14 1919.78L1614.1 1928.57L1615.07 1937.61L1616.04 1946.91L1617.02 1956.48L1618 1966.33L1618.99 1976.46L1619.99 1986.88L1620.99 1997.6L1621.99 2008.64L1623.01 2020L1624.03 2031.69L1625.05 2043.72L1626.09 2056.1L1627.13 2068.84L1628.17 2081.96L1629.23 2095.46L1630.29 2109.35L1631.36 2123.66L1632.44 2138.38L1633.53 2153.54L1634.63 2169.15L1635.73 2185.22L1636.85 2201.76L1637.97 2218.8L1639.11 2236.34L1640.25 2254.4L1641.41 2273L1642.57 2292.16L1643.75 2311.88L1644.94 2332.2L1646.14 2353.12L1647.36 2374.67L1648.58 2396.87L1649.82 2419.73L1651.08 2443.29L1652.35 2467.55L1653.63 2492.54L1654.92 2518.3L1656.24 2544.83L1657.56 2572.16L1658.91 2600.32L1660.27 2629.34L1661.65 2659.25L1663.05 2690.06L1664.46 2721.82L1665.9 2754.55L1667.35 2788.27L1668.82 2823.04L1670.32 2858.87" stroke="#5834a6"/>
<rect x="1586.2" y="1821.15" width="30.1" height="30.1" fill="#fff" stroke="#5834a6" stroke-width="7.7" stroke-linejoin="miter"/>
<rect x="1613.7" y="2047.95" width="30.1" height="30.1" fill="#fff" stroke="#5834a6" stroke-width="7.7" stroke-linejoin="miter"/>
<rect x="1631.7" y="2327.95" width="30.1" height="30.1" fill="#fff" stroke="#5834a6" stroke-width="7.7" stroke-linejoin="miter"/>
<path d="M291.5 1586.55L303.53 1586.58L319.97 1586.62L336.4 1586.65L352.83 1586.68L369.27 1586.71L385.7 1586.75L402.14 1586.78L418.57 1586.81L435 1586.85L451.44 1586.88L467.87 1586.91L484.3 1586.95L500.74 1586.98L517.17 1587.01L533.6 1587.04L550.04 1587.08L566.47 1587.11L582.9 1587.14L599.34 1587.18L615.77 1587.21L632.21 1587.24L648.64 1587.28L665.07 1587.31L681.51 1587.34L697.94 1587.38L714.37 1587.41L730.81 1587.44L747.24 1587.48L763.67 1587.51L780.11 1587.55L796.54 1587.58L812.97 1587.61L829.41 1587.65L845.84 1587.68L862.27 1587.72L878.71 1587.75L895.14 1587.79L911.58 1587.82L928.01 1587.86L944.44 1587.9L960.88 1587.93L977.31 1587.97L993.74 1588.01L1010.18 1588.05L1026.61 1588.08L1043.04 1588.12L1059.48 1588.16L1075.91 1588.21L1092.35 1588.25L1108.78 1588.29L1125.21 1588.34L1141.65 1588.38L1158.08 1588.43L1174.51 1588.48L1190.95 1588.53L1207.38 1588.59L1223.81 1588.65L1240.25 1588.71L1256.68 1588.77L1273.12 1588.84L1273.75 1588.84L1274.38 1588.84L1275 1588.85L1275.63 1588.85L1276.26 1588.85L1276.89 1588.85L1277.52 1588.86L1278.15 1588.86L1278.78 1588.86L1279.41 1588.86L1280.04 1588.87L1280.67 1588.87L1281.3 1588.87L1281.93 1588.88L1282.56 1588.88L1283.19 1588.88L1283.82 1588.88L1284.45 1588.89L1285.08 1588.89L1285.71 1588.89L1286.34 1588.89L1286.97 1588.9L1287.6 1588.9L1288.23 1588.9L1288.86 1588.91L1289.49 1588.91L1290.12 1588.91L1290.75 1588.91L1291.38 1588.92L1292.01 1588.92L1292.64 1588.92L1293.27 1588.93L1293.9 1588.93L1294.53 1588.93L1295.16 1588.93L1295.79 1588.94L1296.42 1588.94L1297.05 1588.94L1297.68 1588.95L1298.31 1588.95L1298.94 1588.95L1299.57 1588.96L1300.2 1588.96L1300.83 1588.96L1301.46 1588.96L1302.09 1588.97L1302.72 1588.97L1303.35 1588.97L1303.98 1588.98L1304.61 1588.98L1305.24 1588.98L1305.87 1588.99L1306.5 1588.99L1307.13 1588.99L1307.76 1588.99L1308.39 1589L1309.02 1589L1309.65 1589L1310.28 1589.01L1310.91 1589.01L1311.54 1589.01L1312.17 1589.02L1312.8 1589.02L1313.43 1589.02L1314.06 1589.03L1314.69 1589.03L1315.32 1589.03L1315.95 1589.04L1316.58 1589.04L1317.21 1589.04L1317.84 1589.04L1318.47 1589.05L1319.09 1589.05L1319.72 1589.05L1320.35 1589.06L1320.98 1589.06L1321.61 1589.06L1322.24 1589.07L1322.87 1589.07L1323.5 1589.07L1324.13 1589.08L1324.76 1589.08L1325.39 1589.08L1326.02 1589.09L1326.65 1589.09L1327.28 1589.09L1327.91 1589.1L1328.54 1589.1L1329.17 1589.1L1329.8 1589.11L1330.43 1589.11L1331.06 1589.11L1331.69 1589.12L1332.32 1589.12L1332.95 1589.12L1333.58 1589.13L1334.21 1589.13L1334.84 1589.13L1335.47 1589.14L1336.1 1589.14L1336.73 1589.15L1337.36 1589.15L1337.99 1589.15L1338.62 1589.16L1339.25 1589.16L1339.88 1589.16L1340.51 1589.17L1341.14 1589.17L1341.77 1589.17L1342.4 1589.18L1343.03 1589.18L1343.66 1589.19L1344.29 1589.19L1344.92 1589.19L1345.55 1589.2L1346.18 1589.2L1346.81 1589.2L1347.44 1589.21L1348.07 1589.21L1348.7 1589.21L1349.33 1589.22L1349.96 1589.22L1350.59 1589.23L1351.22 1589.23L1351.85 1589.23L1352.48 1589.24L1353.11 1589.24L1353.74 1589.25L1354.37 1589.25L1355 1589.25L1355.63 1589.26L1356.26 1589.26L1356.89 1589.27L1357.52 1589.27L1358.15 1589.27L1358.78 1589.28L1359.41 1589.28L1360.04 1589.29L1360.67 1589.29L1361.3 1589.29L1361.93 1589.3L1362.56 1589.3L1363.19 1589.31L1363.82 1589.31L1364.44 1589.32L1365.07 1589.32L1365.7 1589.32L1366.33 1589.33L1366.96 1589.33L1367.59 1589.34L1368.22 1589.34L1368.85 1589.35L1369.48 1589.35L1370.11 1589.36L1370.74 1589.36L1371.37 1589.37L1372 1589.37L1372.63 1589.37L1373.26 1589.38L1373.89 1589.38L1374.52 1589.39L1375.15 1589.39L1375.78 1589.4L1376.41 1589.4L1377.04 1589.41L1377.67 1589.41L1378.3 1589.42L1378.93 1589.42L1379.56 1589.43L1380.19 1589.43L1380.82 1589.44L1381.45 1589.45L1382.08 1589.45L1382.71 1589.46L1383.34 1589.46L1383.97 1589.47L1384.6 1589.47L1385.23 1589.48L1385.86 1589.48L1386.49 1589.49L1387.12 1589.5L1387.75 1589.5L1388.38 1589.51L1389.01 1589.51L1389.64 1589.52L1390.27 1589.53L1390.9 1589.53L1391.53 1589.54L1392.16 1589.55L1392.79 1589.55L1393.42 1589.56L1394.05 1589.57L1394.68 1589.57L1395.31 1589.58L1395.94 1589.59L1396.57 1589.59L1397.2 1589.6L1397.83 1589.61L1398.46 1589.62L1399.09 1589.62L1399.72 1589.63L1400.35 1589.64L1400.98 1589.65L1401.61 1589.66L1402.24 1589.66L1402.87 1589.67L1403.5 1589.68L1404.13 1589.69L1404.76 1589.7L1405.39 1589.71L1406.02 1589.72L1406.65 1589.73L1407.28 1589.74L1407.91 1589.74L1408.54 1589.75L1409.17 1589.77L1409.8 1589.78L1410.43 1589.79L1411.06 1589.8L1411.69 1589.81L1412.32 1589.82L1412.95 1589.83L1413.58 1589.84L1414.2 1589.85L1414.83 1589.87L1415.46 1589.88L1416.09 1589.89L1416.72 1589.9L1417.35 1589.92L1417.98 1589.93L1418.61 1589.95L1419.24 1589.96L1419.87 1589.97L1420.5 1589.99L1421.13 1590.01L1421.76 1590.02L1422.39 1590.04L1423.02 1590.05L1423.65 1590.07L1424.28 1590.09L1424.91 1590.11L1425.54 1590.12L1426.17 1590.14L1426.8 1590.16L1427.43 1590.18L1428.06 1590.2L1428.69 1590.22L1429.32 1590.24L1429.95 1590.27L1430.58 1590.29L1431.21 1590.31L1431.84 1590.34L1432.47 1590.36L1433.1 1590.38L1433.73 1590.41L1434.36 1590.44L1434.99 1590.46L1435.62 1590.49L1436.25 1590.52L1436.88 1590.55L1437.51 1590.58L1438.14 1590.61L1438.77 1590.64L1439.4 1590.68L1440.03 1590.71L1440.66 1590.75L1441.29 1590.78L1441.92 1590.82L1442.55 1590.86L1443.18 1590.9L1443.81 1590.94L1444.44 1590.98L1445.07 1591.02L1445.7 1591.07L1446.33 1591.11L1446.96 1591.16L1447.59 1591.21L1448.22 1591.26L1448.85 1591.31L1449.48 1591.36L1450.11 1591.42L1450.74 1591.47L1451.37 1591.53L1452 1591.59L1452.63 1591.65L1453.26 1591.71L1453.89 1591.78L1454.52 1591.85L1455.15 1591.92L1455.78 1591.99L1456.41 1592.06L1457.04 1592.14L1457.67 1592.22L1458.3 1592.3L1458.94 1592.38L1459.57 1592.47L1460.2 1592.55L1460.83 1592.64L1461.46 1592.74L1462.09 1592.84L1462.72 1592.94L1463.35 1593.04L1463.98 1593.15L1464.61 1593.25L1465.24 1593.37L1465.87 1593.48L1466.5 1593.6L1467.13 1593.73L1467.76 1593.86L1468.39 1593.99L1469.02 1594.12L1469.65 1594.27L1470.28 1594.41L1470.91 1594.56L1471.54 1594.71L1472.17 1594.87L1472.8 1595.04L1473.43 1595.2L1474.06 1595.38L1474.7 1595.56L1475.33 1595.74L1475.96 1595.94L1476.59 1596.13L1477.22 1596.34L1477.85 1596.55L1478.48 1596.76L1479.11 1596.99L1479.74 1597.22L1480.37 1597.45L1481 1597.7L1481.63 1597.95L1482.27 1598.21L1482.9 1598.48L1483.53 1598.76L1484.16 1599.04L1484.79 1599.34L1485.42 1599.64L1486.05 1599.96L1486.68 1600.28L1487.31 1600.61L1487.95 1600.96L1488.58 1601.31L1489.21 1601.68L1489.84 1602.06L1490.47 1602.45L1491.1 1602.85L1491.74 1603.26L1492.37 1603.69L1493 1604.13L1493.63 1604.59L1494.26 1605.06L1494.89 1605.54L1495.53 1606.04L1496.16 1606.55L1496.79 1607.08L1497.42 1607.63L1498.06 1608.19L1498.69 1608.77L1499.32 1609.37L1499.95 1609.99L1500.59 1610.63L1501.22 1611.28L1501.85 1611.96L1502.48 1612.66L1503.12 1613.38L1503.75 1614.12L1504.38 1614.89L1505.02 1615.68L1505.65 1616.49L1506.28 1617.33L1506.92 1618.19L1507.55 1619.08L1508.19 1620L1508.82 1620.95L1509.45 1621.92L1510.09 1622.93L1510.72 1623.97L1511.36 1625.04L1511.99 1626.14L1512.63 1627.27L1513.26 1628.45L1513.9 1629.65L1514.53 1630.9L1515.17 1632.18L1515.8 1633.5L1516.44 1634.86L1517.08 1636.26L1517.71 1637.71L1518.35 1639.2L1518.98 1640.73L1519.62 1642.32L1520.26 1643.95L1520.9 1645.63L1521.53 1647.36L1522.17 1649.14L1522.81 1650.98L1523.45 1652.87L1524.09 1654.82L1524.72 1656.83L1525.36 1658.91L1526 1661.04L1526.64 1663.24L1527.28 1665.5L1527.92 1667.84L1528.56 1670.24L1529.2 1672.72L1529.85 1675.27L1530.49 1677.89L1531.13 1680.6L1531.77 1683.39L1532.41 1686.26L1533.06 1689.22L1533.7 1692.26L1534.34 1695.4L1534.99 1698.63L1535.63 1701.96L1536.28 1705.38L1536.92 1708.91L1537.57 1712.55L1538.21 1716.29L1538.86 1720.15L1539.51 1724.12L1540.16 1728.2L1540.81 1732.41L1541.45 1736.75L1542.1 1741.21L1542.75 1745.8L1543.41 1750.54L1544.06 1755.41L1544.71 1760.42L1545.36 1765.58L1546.02 1770.9L1546.67 1776.37L1547.32 1782.01L1547.98 1787.81L1548.64 1793.78L1549.29 1799.92L1549.95 1806.25L1550.61 1812.76L1551.27 1819.46L1551.93 1826.36L1552.59 1833.46L1553.25 1840.77L1553.92 1848.3L1554.58 1856.04L1555.25 1864.01L1555.91 1872.21L1556.58 1880.65L1557.25 1889.34L1557.92 1898.28L1558.59 1907.47L1559.26 1916.94L1559.93 1926.68L1560.61 1936.7L1561.28 1947.02L1561.96 1957.63L1562.64 1968.55L1563.32 1979.78L1564 1991.34L1564.68 2003.24L1565.36 2015.47L1566.05 2028.06L1566.74 2041.01L1567.43 2054.33L1568.12 2068.04L1568.81 2082.14L1569.5 2096.64L1570.2 2111.56L1570.9 2126.91L1571.6 2142.7L1572.3 2158.94L1573 2175.64L1573.71 2192.82L1574.42 2210.49L1575.13 2228.66L1575.84 2247.35L1576.56 2266.57L1577.27 2286.34L1577.99 2306.67L1578.72 2327.57L1579.44 2349.07L1580.17 2371.18L1580.9 2393.92L1581.63 2417.3L1582.37 2441.34L1583.11 2466.05L1583.85 2491.47L1584.6 2517.6L1585.35 2544.47L1586.1 2572.1L1586.85 2600.5L1587.61 2629.7L1588.38 2659.72L1589.14 2690.58L1589.91 2722.31L1590.69 2754.93L1591.47 2788.46L1592.25 2822.93L1593.04 2858.36" stroke="#822d87"/>
<circle cx="1546.5" cy="1780" r="16.7" fill="#fff" stroke="#822d87" stroke-width="7.5"/>
<circle cx="1564.5" cy="2006.25" r="16.7" fill="#fff" stroke="#822d87" stroke-width="7.5"/>
<circle cx="1574.25" cy="2196.25" r="16.7" fill="#fff" stroke="#822d87" stroke-width="7.5"/>
<path d="M291.5 1579.12L305.76 1579.16L320.92 1579.19L336.08 1579.22L351.25 1579.25L366.41 1579.29L381.57 1579.32L396.74 1579.35L411.9 1579.38L427.06 1579.42L442.22 1579.45L457.39 1579.48L472.55 1579.51L487.71 1579.55L502.88 1579.58L518.04 1579.61L533.2 1579.65L548.37 1579.68L563.53 1579.71L578.69 1579.75L593.85 1579.78L609.02 1579.82L624.18 1579.85L639.34 1579.88L654.51 1579.92L669.67 1579.95L684.83 1579.99L699.99 1580.02L715.16 1580.06L730.32 1580.1L745.48 1580.13L760.65 1580.17L775.81 1580.21L790.97 1580.25L806.14 1580.28L821.3 1580.32L836.46 1580.36L851.62 1580.4L866.79 1580.44L881.95 1580.48L897.11 1580.53L912.28 1580.57L927.44 1580.62L942.6 1580.66L957.77 1580.71L972.93 1580.76L988.09 1580.81L1003.25 1580.86L1018.42 1580.91L1033.58 1580.96L1048.74 1581.02L1063.91 1581.08L1079.07 1581.14L1094.23 1581.21L1109.39 1581.27L1124.56 1581.34L1139.72 1581.42L1154.88 1581.49L1170.05 1581.57L1185.21 1581.66L1200.37 1581.75L1201.05 1581.75L1201.73 1581.76L1202.4 1581.76L1203.08 1581.76L1203.76 1581.77L1204.43 1581.77L1205.11 1581.78L1205.79 1581.78L1206.46 1581.79L1207.14 1581.79L1207.82 1581.79L1208.49 1581.8L1209.17 1581.8L1209.85 1581.81L1210.52 1581.81L1211.2 1581.82L1211.88 1581.82L1212.55 1581.82L1213.23 1581.83L1213.91 1581.83L1214.58 1581.84L1215.26 1581.84L1215.94 1581.85L1216.61 1581.85L1217.29 1581.85L1217.97 1581.86L1218.64 1581.86L1219.32 1581.87L1220 1581.87L1220.67 1581.88L1221.35 1581.88L1222.03 1581.89L1222.7 1581.89L1223.38 1581.9L1224.06 1581.9L1224.73 1581.9L1225.41 1581.91L1226.09 1581.91L1226.76 1581.92L1227.44 1581.92L1228.12 1581.93L1228.79 1581.93L1229.47 1581.94L1230.15 1581.94L1230.82 1581.95L1231.5 1581.95L1232.18 1581.96L1232.85 1581.96L1233.53 1581.96L1234.21 1581.97L1234.88 1581.97L1235.56 1581.98L1236.24 1581.98L1236.91 1581.99L1237.59 1581.99L1238.27 1582L1238.94 1582L1239.62 1582.01L1240.3 1582.01L1240.97 1582.02L1241.65 1582.02L1242.33 1582.03L1243 1582.03L1243.68 1582.04L1244.36 1582.04L1245.03 1582.05L1245.71 1582.05L1246.39 1582.06L1247.06 1582.06L1247.74 1582.07L1248.42 1582.07L1249.09 1582.08L1249.77 1582.08L1250.45 1582.09L1251.12 1582.09L1251.8 1582.1L1252.47 1582.1L1253.15 1582.11L1253.83 1582.11L1254.5 1582.12L1255.18 1582.13L1255.86 1582.13L1256.53 1582.14L1257.21 1582.14L1257.89 1582.15L1258.56 1582.15L1259.24 1582.16L1259.92 1582.16L1260.59 1582.17L1261.27 1582.17L1261.95 1582.18L1262.62 1582.18L1263.3 1582.19L1263.98 1582.2L1264.65 1582.2L1265.33 1582.21L1266.01 1582.21L1266.68 1582.22L1267.36 1582.22L1268.04 1582.23L1268.71 1582.24L1269.39 1582.24L1270.07 1582.25L1270.74 1582.25L1271.42 1582.26L1272.1 1582.26L1272.77 1582.27L1273.45 1582.28L1274.13 1582.28L1274.8 1582.29L1275.48 1582.29L1276.16 1582.3L1276.83 1582.31L1277.51 1582.31L1278.19 1582.32L1278.86 1582.32L1279.54 1582.33L1280.22 1582.34L1280.89 1582.34L1281.57 1582.35L1282.25 1582.36L1282.92 1582.36L1283.6 1582.37L1284.28 1582.38L1284.95 1582.38L1285.63 1582.39L1286.31 1582.4L1286.98 1582.4L1287.66 1582.41L1288.34 1582.42L1289.01 1582.42L1289.69 1582.43L1290.37 1582.44L1291.04 1582.44L1291.72 1582.45L1292.4 1582.46L1293.07 1582.46L1293.75 1582.47L1294.43 1582.48L1295.1 1582.48L1295.78 1582.49L1296.46 1582.5L1297.13 1582.51L1297.81 1582.51L1298.49 1582.52L1299.16 1582.53L1299.84 1582.54L1300.52 1582.54L1301.19 1582.55L1301.87 1582.56L1302.55 1582.57L1303.22 1582.58L1303.9 1582.58L1304.58 1582.59L1305.25 1582.6L1305.93 1582.61L1306.61 1582.62L1307.28 1582.62L1307.96 1582.63L1308.64 1582.64L1309.31 1582.65L1309.99 1582.66L1310.67 1582.67L1311.34 1582.68L1312.02 1582.68L1312.7 1582.69L1313.37 1582.7L1314.05 1582.71L1314.73 1582.72L1315.4 1582.73L1316.08 1582.74L1316.76 1582.75L1317.43 1582.76L1318.11 1582.77L1318.79 1582.78L1319.46 1582.79L1320.14 1582.8L1320.82 1582.81L1321.49 1582.82L1322.17 1582.83L1322.85 1582.84L1323.52 1582.85L1324.2 1582.86L1324.88 1582.87L1325.55 1582.88L1326.23 1582.9L1326.91 1582.91L1327.58 1582.92L1328.26 1582.93L1328.94 1582.94L1329.61 1582.95L1330.29 1582.97L1330.97 1582.98L1331.64 1582.99L1332.32 1583.01L1333 1583.02L1333.67 1583.03L1334.35 1583.04L1335.03 1583.06L1335.7 1583.07L1336.38 1583.09L1337.06 1583.1L1337.73 1583.12L1338.41 1583.13L1339.09 1583.15L1339.76 1583.16L1340.44 1583.18L1341.12 1583.19L1341.79 1583.21L1342.47 1583.22L1343.15 1583.24L1343.82 1583.26L1344.5 1583.28L1345.18 1583.29L1345.85 1583.31L1346.53 1583.33L1347.21 1583.35L1347.88 1583.37L1348.56 1583.39L1349.24 1583.4L1349.91 1583.42L1350.59 1583.45L1351.27 1583.47L1351.94 1583.49L1352.62 1583.51L1353.3 1583.53L1353.97 1583.55L1354.65 1583.58L1355.33 1583.6L1356 1583.62L1356.68 1583.65L1357.36 1583.67L1358.03 1583.7L1358.71 1583.72L1359.39 1583.75L1360.06 1583.78L1360.74 1583.81L1361.42 1583.83L1362.09 1583.86L1362.77 1583.89L1363.45 1583.92L1364.12 1583.95L1364.8 1583.98L1365.48 1584.02L1366.15 1584.05L1366.83 1584.08L1367.51 1584.12L1368.18 1584.15L1368.86 1584.19L1369.54 1584.23L1370.21 1584.26L1370.89 1584.3L1371.57 1584.34L1372.24 1584.38L1372.92 1584.42L1373.6 1584.47L1374.27 1584.51L1374.95 1584.55L1375.63 1584.6L1376.3 1584.65L1376.98 1584.69L1377.66 1584.74L1378.33 1584.79L1379.01 1584.84L1379.69 1584.9L1380.36 1584.95L1381.04 1585.01L1381.72 1585.06L1382.39 1585.12L1383.07 1585.18L1383.75 1585.24L1384.42 1585.3L1385.1 1585.37L1385.78 1585.43L1386.45 1585.5L1387.13 1585.57L1387.81 1585.64L1388.49 1585.72L1389.16 1585.79L1389.84 1585.87L1390.52 1585.95L1391.19 1586.03L1391.87 1586.11L1392.55 1586.2L1393.22 1586.28L1393.9 1586.37L1394.58 1586.46L1395.25 1586.56L1395.93 1586.66L1396.61 1586.76L1397.28 1586.86L1397.96 1586.96L1398.64 1587.07L1399.31 1587.18L1399.99 1587.3L1400.67 1587.41L1401.34 1587.53L1402.02 1587.66L1402.7 1587.78L1403.37 1587.91L1404.05 1588.05L1404.73 1588.18L1405.4 1588.33L1406.08 1588.47L1406.76 1588.62L1407.43 1588.77L1408.11 1588.93L1408.79 1589.09L1409.46 1589.26L1410.14 1589.43L1410.82 1589.6L1411.49 1589.78L1412.17 1589.97L1412.85 1590.16L1413.53 1590.35L1414.2 1590.56L1414.88 1590.76L1415.56 1590.97L1416.23 1591.19L1416.91 1591.42L1417.59 1591.65L1418.26 1591.88L1418.94 1592.13L1419.62 1592.38L1420.29 1592.64L1420.97 1592.9L1421.65 1593.17L1422.32 1593.45L1423 1593.74L1423.68 1594.04L1424.36 1594.34L1425.03 1594.65L1425.71 1594.97L1426.39 1595.31L1427.06 1595.65L1427.74 1595.99L1428.42 1596.35L1429.09 1596.72L1429.77 1597.1L1430.45 1597.5L1431.13 1597.9L1431.8 1598.31L1432.48 1598.74L1433.16 1599.17L1433.83 1599.62L1434.51 1600.09L1435.19 1600.56L1435.86 1601.05L1436.54 1601.55L1437.22 1602.07L1437.9 1602.6L1438.57 1603.15L1439.25 1603.72L1439.93 1604.29L1440.6 1604.89L1441.28 1605.5L1441.96 1606.13L1442.64 1606.78L1443.31 1607.45L1443.99 1608.14L1444.67 1608.84L1445.35 1609.57L1446.02 1610.31L1446.7 1611.08L1447.38 1611.87L1448.05 1612.69L1448.73 1613.52L1449.41 1614.38L1450.09 1615.27L1450.76 1616.18L1451.44 1617.11L1452.12 1618.08L1452.8 1619.07L1453.47 1620.09L1454.15 1621.14L1454.83 1622.22L1455.51 1623.33L1456.19 1624.47L1456.86 1625.64L1457.54 1626.85L1458.22 1628.1L1458.9 1629.38L1459.57 1630.69L1460.25 1632.05L1460.93 1633.44L1461.61 1634.88L1462.29 1636.35L1462.96 1637.87L1463.64 1639.43L1464.32 1641.04L1465 1642.69L1465.68 1644.39L1466.35 1646.14L1467.03 1647.94L1467.71 1649.79L1468.39 1651.69L1469.07 1653.65L1469.75 1655.67L1470.43 1657.75L1471.1 1659.88L1471.78 1662.08L1472.46 1664.34L1473.14 1666.66L1473.82 1669.05L1474.5 1671.52L1475.18 1674.05L1475.86 1676.65L1476.53 1679.34L1477.21 1682.09L1477.89 1684.93L1478.57 1687.85L1479.25 1690.86L1479.93 1693.95L1480.61 1697.13L1481.29 1700.4L1481.97 1703.77L1482.65 1707.23L1483.33 1710.8L1484.01 1714.47L1484.69 1718.24L1485.37 1722.13L1486.05 1726.12L1486.73 1730.23L1487.41 1734.46L1488.09 1738.81L1488.77 1743.29L1489.45 1747.9L1490.13 1752.64L1490.81 1757.52L1491.5 1762.54L1492.18 1767.7L1492.86 1773.02L1493.54 1778.48L1494.22 1784.11L1494.9 1789.9L1495.59 1795.85L1496.27 1801.98L1496.95 1808.29L1497.63 1814.78L1498.32 1821.45L1499 1828.32L1499.68 1835.39L1500.37 1842.66L1501.05 1850.14L1501.73 1857.84L1502.42 1865.76L1503.1 1873.91L1503.78 1882.3L1504.47 1890.93L1505.15 1899.81L1505.84 1908.94L1506.52 1918.34L1507.21 1928.01L1507.89 1937.96L1508.58 1948.2L1509.27 1958.74L1509.95 1969.58L1510.64 1980.73L1511.33 1992.21L1512.01 2004.02L1512.7 2016.17L1513.39 2028.67L1514.08 2041.53L1514.77 2054.77L1515.46 2068.38L1516.14 2082.4L1516.83 2096.81L1517.52 2111.65L1518.22 2126.91L1518.91 2142.62L1519.6 2158.77L1520.29 2175.4L1520.98 2192.51L1521.67 2210.11L1522.37 2228.22L1523.06 2246.85L1523.75 2266.03L1524.45 2285.76L1525.14 2306.05L1525.84 2326.94L1526.54 2348.43L1527.23 2370.54L1527.93 2393.29L1528.63 2416.7L1529.33 2440.78L1530.02 2465.56L1530.72 2491.06L1531.42 2517.29L1532.13 2544.28L1532.83 2572.06L1533.53 2600.63L1534.23 2630.03L1534.94 2660.29L1535.64 2691.41L1536.35 2723.44L1537.05 2756.39L1537.76 2790.29L1538.47 2825.17L1539.18 2861.07" stroke="#af285f"/>
<polygon points="1492,1744.55 1507.15,1764.75 1492,1784.95 1476.85,1764.75" fill="#fff" stroke="#af285f" stroke-width="7.7" stroke-linejoin="miter"/>
<polygon points="1519.5,2126.05 1534.65,2146.25 1519.5,2166.45 1504.35,2146.25" fill="#fff" stroke="#af285f" stroke-width="7.7" stroke-linejoin="miter"/>
<polygon points="1528.25,2374.8 1543.4,2395 1528.25,2415.2 1513.1,2395" fill="#fff" stroke="#af285f" stroke-width="7.7" stroke-linejoin="miter"/>
<path d="M291.5 1577.71L302.29 1577.73L316.85 1577.75L331.41 1577.77L345.97 1577.79L360.53 1577.81L375.09 1577.83L389.65 1577.85L404.21 1577.87L418.77 1577.89L433.33 1577.91L447.89 1577.93L462.45 1577.95L477.01 1577.97L491.57 1577.99L506.13 1578.01L520.69 1578.03L535.25 1578.05L549.81 1578.07L564.37 1578.09L578.93 1578.11L593.49 1578.13L608.04 1578.15L622.6 1578.17L637.16 1578.19L651.72 1578.21L666.28 1578.23L680.84 1578.25L695.4 1578.27L709.96 1578.29L724.52 1578.32L739.08 1578.34L753.64 1578.36L768.2 1578.38L782.76 1578.4L797.32 1578.42L811.88 1578.44L826.44 1578.46L841 1578.48L855.56 1578.5L870.12 1578.52L884.68 1578.54L899.24 1578.56L913.8 1578.58L928.36 1578.6L942.92 1578.62L957.48 1578.64L972.04 1578.66L986.6 1578.68L1001.15 1578.71L1015.71 1578.73L1030.27 1578.75L1044.83 1578.77L1059.39 1578.8L1073.95 1578.82L1088.51 1578.84L1103.07 1578.87L1117.63 1578.89L1132.19 1578.92L1146.75 1578.95L1161.31 1578.98L1162 1578.98L1162.69 1578.98L1163.38 1578.98L1164.07 1578.98L1164.76 1578.99L1165.45 1578.99L1166.14 1578.99L1166.83 1578.99L1167.52 1578.99L1168.21 1578.99L1168.9 1578.99L1169.59 1579L1170.28 1579L1170.97 1579L1171.66 1579L1172.35 1579L1173.04 1579L1173.73 1579.01L1174.42 1579.01L1175.11 1579.01L1175.8 1579.01L1176.49 1579.01L1177.18 1579.01L1177.87 1579.01L1178.56 1579.02L1179.25 1579.02L1179.94 1579.02L1180.63 1579.02L1181.32 1579.02L1182.01 1579.02L1182.71 1579.03L1183.4 1579.03L1184.09 1579.03L1184.78 1579.03L1185.47 1579.03L1186.16 1579.03L1186.85 1579.04L1187.54 1579.04L1188.23 1579.04L1188.92 1579.04L1189.61 1579.04L1190.3 1579.04L1190.99 1579.05L1191.68 1579.05L1192.37 1579.05L1193.06 1579.05L1193.75 1579.05L1194.44 1579.05L1195.13 1579.06L1195.82 1579.06L1196.51 1579.06L1197.2 1579.06L1197.89 1579.06L1198.58 1579.06L1199.27 1579.07L1199.96 1579.07L1200.65 1579.07L1201.34 1579.07L1202.03 1579.07L1202.72 1579.08L1203.41 1579.08L1204.1 1579.08L1204.79 1579.08L1205.48 1579.08L1206.17 1579.08L1206.86 1579.09L1207.55 1579.09L1208.24 1579.09L1208.93 1579.09L1209.62 1579.09L1210.31 1579.1L1211 1579.1L1211.69 1579.1L1212.38 1579.1L1213.07 1579.1L1213.76 1579.11L1214.45 1579.11L1215.14 1579.11L1215.83 1579.11L1216.52 1579.11L1217.21 1579.12L1217.9 1579.12L1218.59 1579.12L1219.28 1579.12L1219.97 1579.12L1220.66 1579.13L1221.35 1579.13L1222.04 1579.13L1222.73 1579.13L1223.42 1579.13L1224.11 1579.14L1224.8 1579.14L1225.49 1579.14L1226.18 1579.14L1226.87 1579.15L1227.56 1579.15L1228.25 1579.15L1228.94 1579.15L1229.63 1579.15L1230.32 1579.16L1231.01 1579.16L1231.7 1579.16L1232.39 1579.16L1233.08 1579.17L1233.77 1579.17L1234.46 1579.17L1235.15 1579.17L1235.85 1579.18L1236.54 1579.18L1237.23 1579.18L1237.92 1579.18L1238.61 1579.19L1239.3 1579.19L1239.99 1579.19L1240.68 1579.19L1241.37 1579.2L1242.06 1579.2L1242.75 1579.2L1243.44 1579.21L1244.13 1579.21L1244.82 1579.21L1245.51 1579.21L1246.2 1579.22L1246.89 1579.22L1247.58 1579.22L1248.27 1579.23L1248.96 1579.23L1249.65 1579.23L1250.34 1579.23L1251.03 1579.24L1251.72 1579.24L1252.41 1579.24L1253.1 1579.25L1253.79 1579.25L1254.48 1579.25L1255.17 1579.26L1255.86 1579.26L1256.55 1579.26L1257.24 1579.27L1257.93 1579.27L1258.62 1579.27L1259.31 1579.28L1260 1579.28L1260.69 1579.29L1261.38 1579.29L1262.07 1579.29L1262.76 1579.3L1263.45 1579.3L1264.14 1579.31L1264.83 1579.31L1265.52 1579.31L1266.21 1579.32L1266.9 1579.32L1267.59 1579.33L1268.28 1579.33L1268.97 1579.33L1269.66 1579.34L1270.35 1579.34L1271.04 1579.35L1271.73 1579.35L1272.42 1579.36L1273.11 1579.36L1273.8 1579.37L1274.49 1579.37L1275.18 1579.38L1275.87 1579.38L1276.56 1579.39L1277.25 1579.39L1277.94 1579.4L1278.63 1579.4L1279.32 1579.41L1280.01 1579.42L1280.7 1579.42L1281.39 1579.43L1282.08 1579.43L1282.77 1579.44L1283.46 1579.45L1284.15 1579.45L1284.84 1579.46L1285.54 1579.47L1286.23 1579.47L1286.92 1579.48L1287.61 1579.49L1288.3 1579.49L1288.99 1579.5L1289.68 1579.51L1290.37 1579.52L1291.06 1579.52L1291.75 1579.53L1292.44 1579.54L1293.13 1579.55L1293.82 1579.56L1294.51 1579.56L1295.2 1579.57L1295.89 1579.58L1296.58 1579.59L1297.27 1579.6L1297.96 1579.61L1298.65 1579.62L1299.34 1579.63L1300.03 1579.64L1300.72 1579.65L1301.41 1579.66L1302.1 1579.67L1302.79 1579.68L1303.48 1579.69L1304.17 1579.71L1304.86 1579.72L1305.55 1579.73L1306.24 1579.74L1306.93 1579.75L1307.62 1579.77L1308.31 1579.78L1309 1579.79L1309.69 1579.81L1310.38 1579.82L1311.07 1579.84L1311.76 1579.85L1312.45 1579.87L1313.14 1579.88L1313.83 1579.9L1314.52 1579.91L1315.21 1579.93L1315.9 1579.95L1316.59 1579.97L1317.28 1579.98L1317.97 1580L1318.66 1580.02L1319.35 1580.04L1320.04 1580.06L1320.73 1580.08L1321.42 1580.1L1322.11 1580.12L1322.8 1580.14L1323.49 1580.17L1324.18 1580.19L1324.87 1580.21L1325.57 1580.24L1326.26 1580.26L1326.95 1580.29L1327.64 1580.31L1328.33 1580.34L1329.02 1580.37L1329.71 1580.4L1330.4 1580.43L1331.09 1580.46L1331.78 1580.49L1332.47 1580.52L1333.16 1580.55L1333.85 1580.58L1334.54 1580.62L1335.23 1580.65L1335.92 1580.69L1336.61 1580.72L1337.3 1580.76L1337.99 1580.8L1338.68 1580.84L1339.37 1580.88L1340.06 1580.92L1340.75 1580.96L1341.44 1581.01L1342.13 1581.05L1342.82 1581.1L1343.51 1581.14L1344.2 1581.19L1344.89 1581.24L1345.58 1581.29L1346.27 1581.35L1346.96 1581.4L1347.65 1581.46L1348.34 1581.51L1349.03 1581.57L1349.72 1581.63L1350.42 1581.7L1351.11 1581.76L1351.8 1581.83L1352.49 1581.89L1353.18 1581.96L1353.87 1582.03L1354.56 1582.11L1355.25 1582.18L1355.94 1582.26L1356.63 1582.34L1357.32 1582.42L1358.01 1582.5L1358.7 1582.59L1359.39 1582.68L1360.08 1582.77L1360.77 1582.86L1361.46 1582.96L1362.15 1583.06L1362.84 1583.16L1363.53 1583.26L1364.22 1583.37L1364.91 1583.48L1365.6 1583.59L1366.3 1583.71L1366.99 1583.83L1367.68 1583.95L1368.37 1584.08L1369.06 1584.21L1369.75 1584.34L1370.44 1584.48L1371.13 1584.62L1371.82 1584.77L1372.51 1584.92L1373.2 1585.07L1373.89 1585.23L1374.58 1585.39L1375.27 1585.56L1375.96 1585.73L1376.66 1585.91L1377.35 1586.09L1378.04 1586.28L1378.73 1586.47L1379.42 1586.67L1380.11 1586.87L1380.8 1587.08L1381.49 1587.3L1382.18 1587.52L1382.87 1587.75L1383.56 1587.98L1384.26 1588.22L1384.95 1588.47L1385.64 1588.72L1386.33 1588.99L1387.02 1589.26L1387.71 1589.53L1388.4 1589.82L1389.09 1590.11L1389.78 1590.41L1390.48 1590.72L1391.17 1591.04L1391.86 1591.37L1392.55 1591.71L1393.24 1592.06L1393.93 1592.41L1394.62 1592.78L1395.32 1593.16L1396.01 1593.55L1396.7 1593.95L1397.39 1594.36L1398.08 1594.78L1398.77 1595.22L1399.47 1595.67L1400.16 1596.13L1400.85 1596.6L1401.54 1597.09L1402.23 1597.59L1402.93 1598.11L1403.62 1598.64L1404.31 1599.19L1405 1599.75L1405.69 1600.33L1406.39 1600.92L1407.08 1601.53L1407.77 1602.16L1408.46 1602.81L1409.16 1603.48L1409.85 1604.16L1410.54 1604.87L1411.24 1605.6L1411.93 1606.34L1412.62 1607.11L1413.31 1607.9L1414.01 1608.71L1414.7 1609.55L1415.39 1610.41L1416.09 1611.3L1416.78 1612.21L1417.48 1613.15L1418.17 1614.11L1418.86 1615.1L1419.56 1616.12L1420.25 1617.18L1420.95 1618.26L1421.64 1619.37L1422.33 1620.51L1423.03 1621.69L1423.72 1622.9L1424.42 1624.15L1425.11 1625.43L1425.81 1626.75L1426.5 1628.11L1427.2 1629.5L1427.89 1630.94L1428.59 1632.42L1429.29 1633.94L1429.98 1635.5L1430.68 1637.12L1431.37 1638.77L1432.07 1640.48L1432.77 1642.23L1433.46 1644.04L1434.16 1645.89L1434.86 1647.8L1435.56 1649.77L1436.25 1651.79L1436.95 1653.87L1437.65 1656.02L1438.35 1658.22L1439.05 1660.49L1439.75 1662.82L1440.45 1665.22L1441.14 1667.69L1441.84 1670.23L1442.54 1672.85L1443.24 1675.54L1443.95 1678.3L1444.65 1681.15L1445.35 1684.08L1446.05 1687.1L1446.75 1690.2L1447.45 1693.39L1448.15 1696.68L1448.86 1700.06L1449.56 1703.54L1450.26 1707.11L1450.97 1710.8L1451.67 1714.58L1452.38 1718.48L1453.08 1722.49L1453.79 1726.62L1454.49 1730.87L1455.2 1735.24L1455.91 1739.73L1456.62 1744.36L1457.32 1749.12L1458.03 1754.01L1458.74 1759.05L1459.45 1764.24L1460.16 1769.57L1460.87 1775.06L1461.58 1780.71L1462.3 1786.52L1463.01 1792.5L1463.72 1798.66L1464.44 1804.99L1465.15 1811.5L1465.87 1818.2L1466.58 1825.1L1467.3 1832.2L1468.02 1839.5L1468.73 1847.01L1469.45 1854.74L1470.17 1862.7L1470.89 1870.88L1471.62 1879.3L1472.34 1887.97L1473.06 1896.88L1473.79 1906.06L1474.51 1915.49L1475.24 1925.21L1475.97 1935.2L1476.7 1945.48L1477.43 1956.06L1478.16 1966.95L1478.89 1978.15L1479.62 1989.67L1480.36 2001.53L1481.09 2013.73L1481.83 2026.29L1482.57 2039.21L1483.31 2052.5L1484.05 2066.17L1484.79 2080.25L1485.54 2094.72L1486.29 2109.62L1487.03 2124.95L1487.78 2140.72L1488.53 2156.95L1489.29 2173.65L1490.04 2190.83L1490.8 2208.51L1491.56 2226.69L1492.32 2245.41L1493.08 2264.67L1493.84 2284.48L1494.61 2304.87L1495.38 2325.84L1496.15 2347.42L1496.93 2369.63L1497.7 2392.48L1498.48 2415.99L1499.26 2440.18L1500.04 2465.06L1500.83 2490.67L1501.62 2517.02L1502.41 2544.13L1503.21 2572.03L1504.01 2600.73L1504.81 2630.26L1505.61 2660.64L1506.42 2691.9L1507.23 2724.07L1508.04 2757.17L1508.86 2791.22L1509.68 2826.26L1510.51 2862.31" stroke="#d02044"/>
<polygon points="1465,1781.3 1482.49,1811.6 1447.51,1811.6" fill="#fff" stroke="#d02044" stroke-width="7.7" stroke-linejoin="miter"/>
<polygon points="1483,2022.05 1500.49,2052.35 1465.51,2052.35" fill="#fff" stroke="#d02044" stroke-width="7.7" stroke-linejoin="miter"/>
<polygon points="1491.75,2223.3 1509.24,2253.6 1474.26,2253.6" fill="#fff" stroke="#d02044" stroke-width="7.7" stroke-linejoin="miter"/>
</g>
<path d="M368 2042.5H510" stroke="#4b62d8" stroke-width="11" fill="none"/>
<path d="M424 2027.5L454 2057.5M424 2057.5L454 2027.5" fill="none" stroke="#4b62d8" stroke-width="7.4"/>
<path d="M368 2185.5H510" stroke="#5834a6" stroke-width="11" fill="none"/>
<rect x="423.95" y="2170.45" width="30.1" height="30.1" fill="#fff" stroke="#5834a6" stroke-width="7.7" stroke-linejoin="miter"/>
<path d="M368 2283.3H510" stroke="#822d87" stroke-width="11" fill="none"/>
<circle cx="439" cy="2283.3" r="16.7" fill="#fff" stroke="#822d87" stroke-width="7.5"/>
<path d="M368 2381.3H510" stroke="#af285f" stroke-width="11" fill="none"/>
<polygon points="439,2361.1 454.15,2381.3 439,2401.5 423.85,2381.3" fill="#fff" stroke="#af285f" stroke-width="7.7" stroke-linejoin="miter"/>
<path d="M368 2479.3H510" stroke="#d02044" stroke-width="11" fill="none"/>
<polygon points="439,2459.1 456.49,2489.4 421.51,2489.4" fill="#fff" stroke="#d02044" stroke-width="7.7" stroke-linejoin="miter"/>
</g>
<text id="Ax0" x="290.8" y="1209.8" font-size="86.3" textLength="42.55" lengthAdjust="spacingAndGlyphs" text-anchor="middle">0</text>
<text id="Ax0_5" x="540.78" y="1209.8" font-size="86.3" textLength="104.78" lengthAdjust="spacingAndGlyphs" text-anchor="middle">0.5</text>
<text id="Ax1" x="791.17" y="1209.8" font-size="86.3" textLength="44.18" lengthAdjust="spacingAndGlyphs" text-anchor="middle">1</text>
<text id="Ax1_5" x="1041.15" y="1209.8" font-size="86.3" textLength="105.12" lengthAdjust="spacingAndGlyphs" text-anchor="middle">1.5</text>
<text id="Ax2" x="1293.03" y="1209.8" font-size="86.3" textLength="49.66" lengthAdjust="spacingAndGlyphs" text-anchor="middle">2</text>
<text id="Ax2_5" x="1541.62" y="1209.8" font-size="86.3" textLength="106.23" lengthAdjust="spacingAndGlyphs" text-anchor="middle">2.5</text>
<text id="Ax3" x="1791.7" y="1209.8" font-size="86.3" textLength="46.5" lengthAdjust="spacingAndGlyphs" text-anchor="middle">3</text>
<text id="Ay0" x="263.3" y="1151.9" font-size="86.3" textLength="43.27" lengthAdjust="spacingAndGlyphs" text-anchor="end">0</text>
<text id="Ay5" x="263" y="906.35" font-size="86.3" textLength="47.56" lengthAdjust="spacingAndGlyphs" text-anchor="end">5</text>
<text id="Ay10" x="262.7" y="660.8" font-size="86.3" textLength="85.98" lengthAdjust="spacingAndGlyphs" text-anchor="end">10</text>
<text id="Ay15" x="262.7" y="415.25" font-size="86.3" textLength="85.95" lengthAdjust="spacingAndGlyphs" text-anchor="end">15</text>
<text id="Ay20" x="263.6" y="169.7" font-size="86.3" textLength="86.18" lengthAdjust="spacingAndGlyphs" text-anchor="end">20</text>
<text id="Axl1" x="780" y="1330" font-size="86" textLength="299.04" lengthAdjust="spacingAndGlyphs">Voltage,</text>
<text id="Axl2" x="1094.9" y="1330" font-size="86" textLength="48.23" lengthAdjust="spacingAndGlyphs" font-style="italic">V</text>
<text id="Axl3" x="1181.9" y="1330" font-size="86" textLength="118.28" lengthAdjust="spacingAndGlyphs">[V]</text>
<text id="Ayl1" x="105.3" y="881.7" font-size="86" textLength="314.51" lengthAdjust="spacingAndGlyphs" transform="rotate(-90 105.3 881.7)">Current,</text>
<text id="Ayl2" x="105.3" y="547" font-size="86" textLength="25.18" lengthAdjust="spacingAndGlyphs" transform="rotate(-90 105.3 547)" font-style="italic">I</text>
<text id="Ayl3" x="105.3" y="489.4" font-size="86" textLength="194.42" lengthAdjust="spacingAndGlyphs" transform="rotate(-90 105.3 489.4)">[mA]</text>
<text id="Bx0" x="290.8" y="2664.8" font-size="86.3" textLength="42.55" lengthAdjust="spacingAndGlyphs" text-anchor="middle">0</text>
<text id="Bx0_5" x="517.63" y="2664.8" font-size="86.3" textLength="103.7" lengthAdjust="spacingAndGlyphs" text-anchor="middle">0.5</text>
<text id="Bx1" x="745.94" y="2664.8" font-size="86.3" textLength="44.33" lengthAdjust="spacingAndGlyphs" text-anchor="middle">1</text>
<text id="Bx1_5" x="973.27" y="2664.8" font-size="86.3" textLength="105.13" lengthAdjust="spacingAndGlyphs" text-anchor="middle">1.5</text>
<text id="Bx2" x="1201.99" y="2664.8" font-size="86.3" textLength="48.43" lengthAdjust="spacingAndGlyphs" text-anchor="middle">2</text>
<text id="Bx2_5" x="1428.5" y="2664.8" font-size="86.3" textLength="106.23" lengthAdjust="spacingAndGlyphs" text-anchor="middle">2.5</text>
<text id="Bx3" x="1655.93" y="2664.8" font-size="86.3" textLength="46.34" lengthAdjust="spacingAndGlyphs" text-anchor="middle">3</text>
<text id="By0" x="263.3" y="2606.9" font-size="86.3" textLength="43.27" lengthAdjust="spacingAndGlyphs" text-anchor="end">0</text>
<text id="By5" x="263" y="2361.35" font-size="86.3" textLength="47.56" lengthAdjust="spacingAndGlyphs" text-anchor="end">5</text>
<text id="By10" x="262.7" y="2115.8" font-size="86.3" textLength="85.98" lengthAdjust="spacingAndGlyphs" text-anchor="end">10</text>
<text id="By15" x="262.7" y="1870.25" font-size="86.3" textLength="85.95" lengthAdjust="spacingAndGlyphs" text-anchor="end">15</text>
<text id="By20" x="263.6" y="1624.7" font-size="86.3" textLength="86.18" lengthAdjust="spacingAndGlyphs" text-anchor="end">20</text>
<text id="Bxl1" x="780" y="2785" font-size="86" textLength="299.04" lengthAdjust="spacingAndGlyphs">Voltage,</text>
<text id="Bxl2" x="1094.9" y="2785" font-size="86" textLength="48.23" lengthAdjust="spacingAndGlyphs" font-style="italic">V</text>
<text id="Bxl3" x="1181.9" y="2785" font-size="86" textLength="118.28" lengthAdjust="spacingAndGlyphs">[V]</text>
<text id="Byl1" x="105.3" y="2336.7" font-size="86" textLength="314.51" lengthAdjust="spacingAndGlyphs" transform="rotate(-90 105.3 2336.7)">Current,</text>
<text id="Byl2" x="105.3" y="2002" font-size="86" textLength="25.18" lengthAdjust="spacingAndGlyphs" transform="rotate(-90 105.3 2002)" font-style="italic">I</text>
<text id="Byl3" x="105.3" y="1944.4" font-size="86" textLength="194.42" lengthAdjust="spacingAndGlyphs" transform="rotate(-90 105.3 1944.4)">[mA]</text>
<text id="LA0T" x="515" y="664.5" font-size="75.5" textLength="40.07" lengthAdjust="spacingAndGlyphs" font-style="italic">T</text>
<text id="LA0E" x="579.8" y="669.5" font-size="75.5" textLength="47.01" lengthAdjust="spacingAndGlyphs">=</text>
<text id="LA0N" x="645.2" y="664.5" font-size="75.5" textLength="115.86" lengthAdjust="spacingAndGlyphs">300</text>
<text id="LA0K" x="770.6" y="664.5" font-size="75.5" textLength="55.42" lengthAdjust="spacingAndGlyphs">K</text>
<text id="LA1T" x="515" y="762.2" font-size="75.5" textLength="40.07" lengthAdjust="spacingAndGlyphs" font-style="italic">T</text>
<text id="LA1E" x="579.8" y="767.2" font-size="75.5" textLength="47.01" lengthAdjust="spacingAndGlyphs">=</text>
<text id="LA1N" x="645.2" y="762.2" font-size="75.5" textLength="115.86" lengthAdjust="spacingAndGlyphs">350</text>
<text id="LA1K" x="770.6" y="762.2" font-size="75.5" textLength="55.42" lengthAdjust="spacingAndGlyphs">K</text>
<text id="LA2T" x="515" y="859.8" font-size="75.5" textLength="40.07" lengthAdjust="spacingAndGlyphs" font-style="italic">T</text>
<text id="LA2E" x="579.8" y="864.8" font-size="75.5" textLength="47.01" lengthAdjust="spacingAndGlyphs">=</text>
<text id="LA2N" x="648.2" y="859.8" font-size="75.5" textLength="113.66" lengthAdjust="spacingAndGlyphs">400</text>
<text id="LA2K" x="770.6" y="859.8" font-size="75.5" textLength="55.42" lengthAdjust="spacingAndGlyphs">K</text>
<text id="LA3T" x="515" y="957.8" font-size="75.5" textLength="40.07" lengthAdjust="spacingAndGlyphs" font-style="italic">T</text>
<text id="LA3E" x="579.8" y="962.8" font-size="75.5" textLength="47.01" lengthAdjust="spacingAndGlyphs">=</text>
<text id="LA3N" x="648.2" y="957.8" font-size="75.5" textLength="113.66" lengthAdjust="spacingAndGlyphs">450</text>
<text id="LA3K" x="770.6" y="957.8" font-size="75.5" textLength="55.42" lengthAdjust="spacingAndGlyphs">K</text>
<text id="LA4T" x="515" y="1055.4" font-size="75.5" textLength="40.07" lengthAdjust="spacingAndGlyphs" font-style="italic">T</text>
<text id="LA4E" x="579.8" y="1060.4" font-size="75.5" textLength="47.01" lengthAdjust="spacingAndGlyphs">=</text>
<text id="LA4N" x="644.7" y="1055.4" font-size="75.5" textLength="116.9" lengthAdjust="spacingAndGlyphs">500</text>
<text id="LA4K" x="770.6" y="1055.4" font-size="75.5" textLength="55.42" lengthAdjust="spacingAndGlyphs">K</text>
<text id="LB0T" x="530.2" y="2016.2" font-size="75.5" textLength="41.21" lengthAdjust="spacingAndGlyphs" font-style="italic">T</text>
<text id="LB0E" x="595.1" y="2021.2" font-size="75.5" textLength="47.25" lengthAdjust="spacingAndGlyphs">=</text>
<text id="LB0N" x="660.2" y="2016.2" font-size="75.5" textLength="117.05" lengthAdjust="spacingAndGlyphs">230</text>
<text id="LB0K" x="786.6" y="2016.2" font-size="75.5" textLength="54.99" lengthAdjust="spacingAndGlyphs">K</text>
<text id="LB1T" x="530.2" y="2204" font-size="75.5" textLength="41.21" lengthAdjust="spacingAndGlyphs" font-style="italic">T</text>
<text id="LB1E" x="595.1" y="2209" font-size="75.5" textLength="47.25" lengthAdjust="spacingAndGlyphs">=</text>
<text id="LB1N" x="660.2" y="2204" font-size="75.5" textLength="117.05" lengthAdjust="spacingAndGlyphs">250</text>
<text id="LB1K" x="786.6" y="2204" font-size="75.5" textLength="54.99" lengthAdjust="spacingAndGlyphs">K</text>
<text id="LB2T" x="530.2" y="2302" font-size="75.5" textLength="41.21" lengthAdjust="spacingAndGlyphs" font-style="italic">T</text>
<text id="LB2E" x="595.1" y="2307" font-size="75.5" textLength="47.25" lengthAdjust="spacingAndGlyphs">=</text>
<text id="LB2N" x="660.2" y="2302" font-size="75.5" textLength="117.05" lengthAdjust="spacingAndGlyphs">273</text>
<text id="LB2K" x="786.6" y="2302" font-size="75.5" textLength="54.99" lengthAdjust="spacingAndGlyphs">K</text>
<text id="LB3T" x="530.2" y="2400" font-size="75.5" textLength="41.21" lengthAdjust="spacingAndGlyphs" font-style="italic">T</text>
<text id="LB3E" x="595.1" y="2405" font-size="75.5" textLength="47.25" lengthAdjust="spacingAndGlyphs">=</text>
<text id="LB3N" x="660.2" y="2400" font-size="75.5" textLength="117.05" lengthAdjust="spacingAndGlyphs">290</text>
<text id="LB3K" x="786.6" y="2400" font-size="75.5" textLength="54.99" lengthAdjust="spacingAndGlyphs">K</text>
<text id="LB4T" x="530.2" y="2498" font-size="75.5" textLength="41.21" lengthAdjust="spacingAndGlyphs" font-style="italic">T</text>
<text id="LB4E" x="595.1" y="2503" font-size="75.5" textLength="47.25" lengthAdjust="spacingAndGlyphs">=</text>
<text id="LB4N" x="660.2" y="2498" font-size="75.5" textLength="117.09" lengthAdjust="spacingAndGlyphs">300</text>
<text id="LB4K" x="786.6" y="2498" font-size="75.5" textLength="54.99" lengthAdjust="spacingAndGlyphs">K</text>
<text id="LBbk" x="531.7" y="2107.6" font-size="60" textLength="403.64" lengthAdjust="spacingAndGlyphs">(&quot;broken-knee&quot;)</text>
<text id="capa1" x="18.4" y="1505.4" font-size="78" textLength="24.08" lengthAdjust="spacingAndGlyphs">(</text>
<text id="capa2" x="41.9" y="1505.4" font-size="78" textLength="34.94" lengthAdjust="spacingAndGlyphs" font-weight="bold">a</text>
<text id="capa3" x="78.3" y="1505.4" font-size="78" textLength="24.49" lengthAdjust="spacingAndGlyphs">)</text>
<text id="capb1" x="18.4" y="2960.2" font-size="78" textLength="24.08" lengthAdjust="spacingAndGlyphs">(</text>
<text id="capb2" x="42" y="2960.2" font-size="78" textLength="44.31" lengthAdjust="spacingAndGlyphs" font-weight="bold">b</text>
<text id="capb3" x="86.6" y="2960.2" font-size="78" textLength="24.06" lengthAdjust="spacingAndGlyphs">)</text>
</svg>
</body></html>
